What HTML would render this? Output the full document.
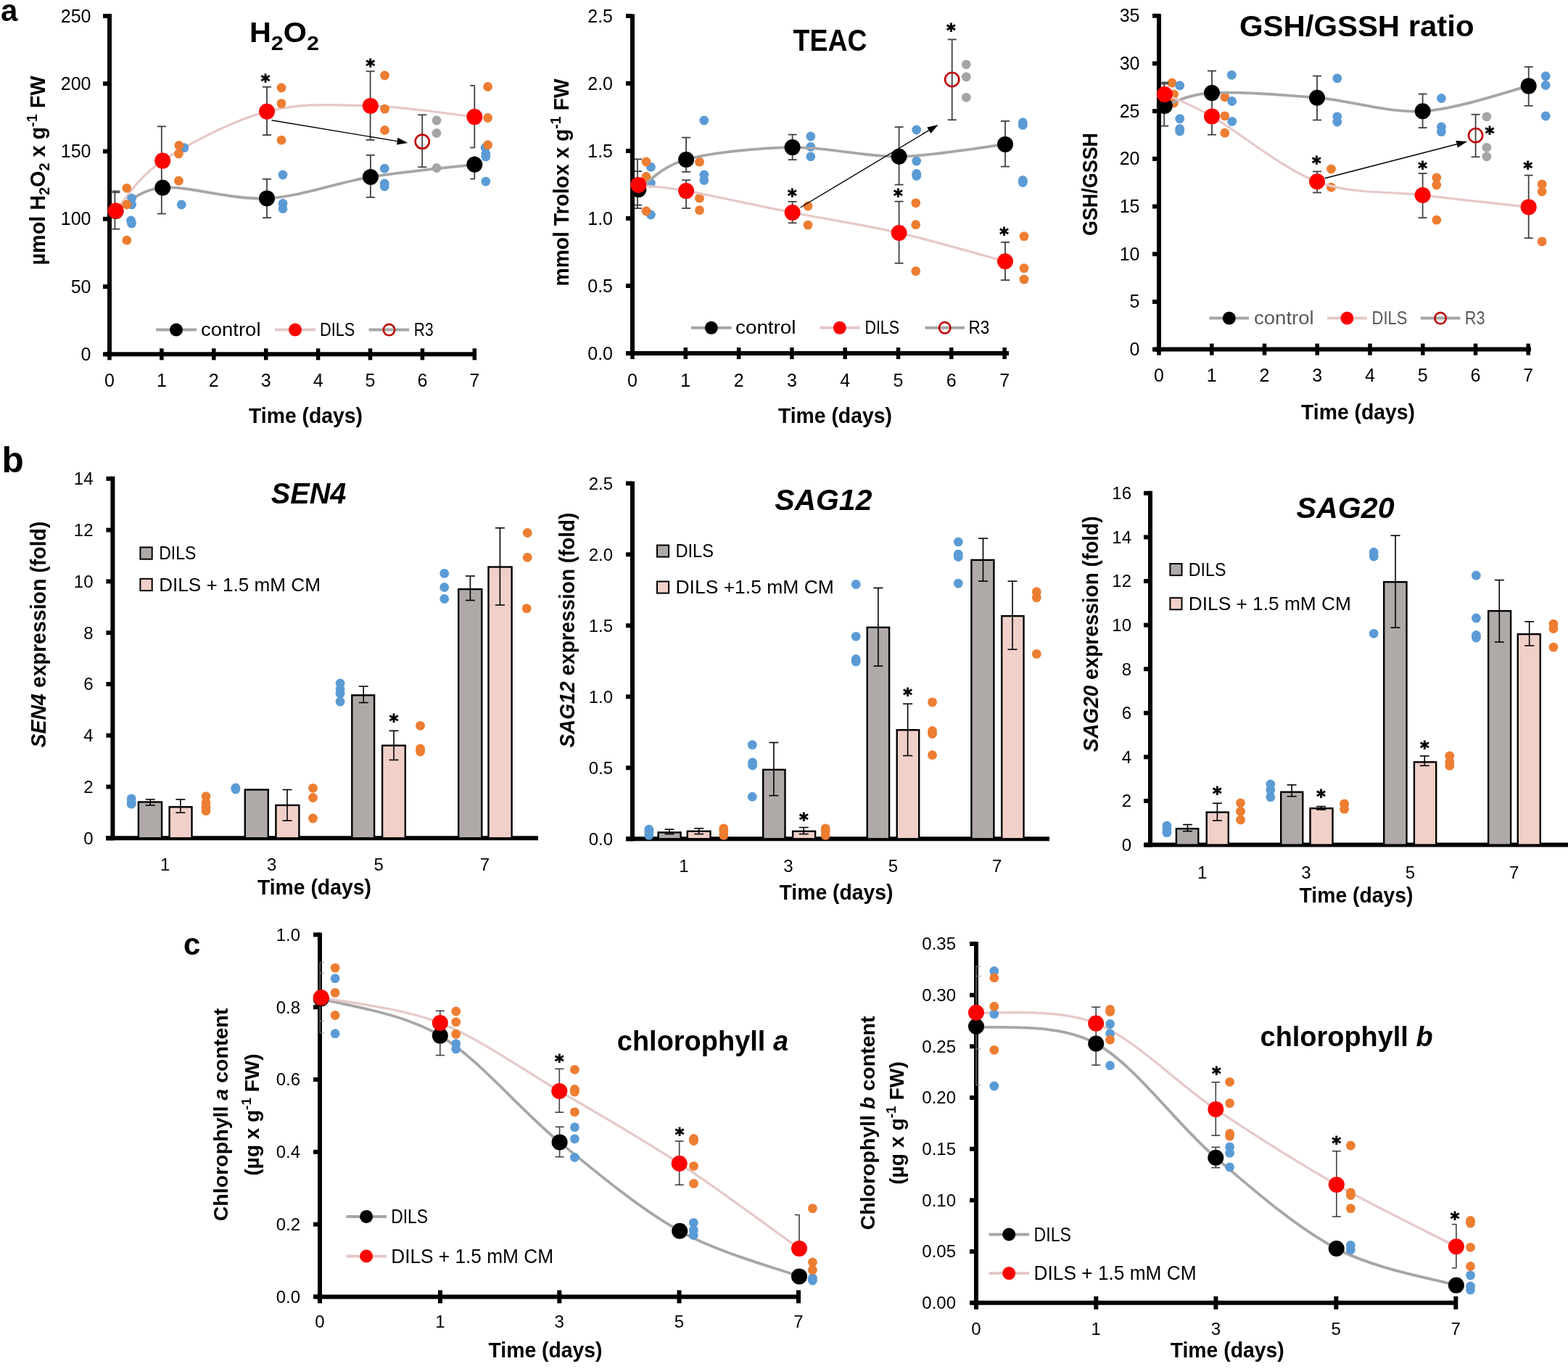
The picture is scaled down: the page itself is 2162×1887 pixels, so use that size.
<!DOCTYPE html><html><head><meta charset="utf-8"><title>Figure</title><style>html,body{margin:0;padding:0;background:#fff;}svg{display:block;}text{font-family:"Liberation Sans", sans-serif;}</style></head><body>
<svg width="2162" height="1887" viewBox="0 0 2162 1887">
<rect width="2162" height="1887" fill="#fff"/>
<text x="1" y="29" font-size="42" text-anchor="start" font-weight="bold" >a</text>
<text x="2.5" y="651.3" font-size="49.5" text-anchor="start" font-weight="bold" >b</text>
<text x="253" y="1316" font-size="42" text-anchor="start" font-weight="bold" >c</text>
<line x1="151" y1="19" x2="151" y2="491.3" stroke="#000" stroke-width="6" stroke-linecap="butt"/>
<line x1="142" y1="488.3" x2="151" y2="488.3" stroke="#000" stroke-width="6" stroke-linecap="butt"/>
<text x="125.5" y="496.8" font-size="25" text-anchor="end" >0</text>
<line x1="142" y1="395.1" x2="151" y2="395.1" stroke="#000" stroke-width="6" stroke-linecap="butt"/>
<text x="125.5" y="403.6" font-size="25" text-anchor="end" >50</text>
<line x1="142" y1="301.8" x2="151" y2="301.8" stroke="#000" stroke-width="6" stroke-linecap="butt"/>
<text x="125.5" y="310.3" font-size="25" text-anchor="end" >100</text>
<line x1="142" y1="208.6" x2="151" y2="208.6" stroke="#000" stroke-width="6" stroke-linecap="butt"/>
<text x="125.5" y="217.1" font-size="25" text-anchor="end" >150</text>
<line x1="142" y1="115.3" x2="151" y2="115.3" stroke="#000" stroke-width="6" stroke-linecap="butt"/>
<text x="125.5" y="123.8" font-size="25" text-anchor="end" >200</text>
<line x1="142" y1="22.1" x2="151" y2="22.1" stroke="#000" stroke-width="6" stroke-linecap="butt"/>
<text x="125.5" y="30.6" font-size="25" text-anchor="end" >250</text>
<line x1="145" y1="488.3" x2="657" y2="488.3" stroke="#000" stroke-width="6" stroke-linecap="butt"/>
<line x1="151" y1="480.3" x2="151" y2="496.3" stroke="#000" stroke-width="5.5" stroke-linecap="butt"/>
<line x1="222.9" y1="480.3" x2="222.9" y2="496.3" stroke="#000" stroke-width="5.5" stroke-linecap="butt"/>
<line x1="294.8" y1="480.3" x2="294.8" y2="496.3" stroke="#000" stroke-width="5.5" stroke-linecap="butt"/>
<line x1="366.7" y1="480.3" x2="366.7" y2="496.3" stroke="#000" stroke-width="5.5" stroke-linecap="butt"/>
<line x1="438.6" y1="480.3" x2="438.6" y2="496.3" stroke="#000" stroke-width="5.5" stroke-linecap="butt"/>
<line x1="510.5" y1="480.3" x2="510.5" y2="496.3" stroke="#000" stroke-width="5.5" stroke-linecap="butt"/>
<line x1="582.4" y1="480.3" x2="582.4" y2="496.3" stroke="#000" stroke-width="5.5" stroke-linecap="butt"/>
<line x1="654.3" y1="480.3" x2="654.3" y2="496.3" stroke="#000" stroke-width="5.5" stroke-linecap="butt"/>
<text x="151" y="533" font-size="25" text-anchor="middle" >0</text>
<text x="222.9" y="533" font-size="25" text-anchor="middle" >1</text>
<text x="294.8" y="533" font-size="25" text-anchor="middle" >2</text>
<text x="366.7" y="533" font-size="25" text-anchor="middle" >3</text>
<text x="438.6" y="533" font-size="25" text-anchor="middle" >4</text>
<text x="510.5" y="533" font-size="25" text-anchor="middle" >5</text>
<text x="582.4" y="533" font-size="25" text-anchor="middle" >6</text>
<text x="654.3" y="533" font-size="25" text-anchor="middle" >7</text>
<text x="421.5" y="583" font-size="29" text-anchor="middle" font-weight="bold" textLength="157" lengthAdjust="spacingAndGlyphs" >Time (days)</text>
<text x="344" y="58" font-size="38" font-weight="bold" textLength="96" lengthAdjust="spacingAndGlyphs">H<tspan font-size="28" dy="11">2</tspan><tspan dy="-11">O</tspan><tspan font-size="28" dy="11">2</tspan></text>
<text transform="translate(62,235) rotate(-90)" x="0" y="0" font-size="29" font-weight="bold" text-anchor="middle" textLength="261" lengthAdjust="spacingAndGlyphs">µmol H<tspan font-size="20" dy="6">2</tspan><tspan dy="-6">O</tspan><tspan font-size="20" dy="6">2</tspan><tspan dy="-6"> x g</tspan><tspan font-size="20" dy="-11">-1</tspan><tspan dy="11"> FW</tspan></text>
<path d="M159.5,291 C170.3,285.6 189.4,261.6 224.2,258.7 C258.9,255.8 320.2,275.8 368,273.4 C415.8,270.9 463.2,251.8 510.9,244 C558.6,236.2 630.4,229.7 654.3,226.8" fill="none" stroke="#a6a6a6" stroke-width="3.8" stroke-linejoin="round"/>
<path d="M159.5,290.6 C170.3,279.1 189.4,244.4 224.2,221.6 C258.9,198.8 320.2,166.4 368,153.8 C415.8,141.2 463.1,144.7 510.8,145.9 C558.5,147.1 630.4,158.6 654.3,161.1" fill="none" stroke="#e6c8c8" stroke-width="3.2" stroke-linejoin="round"/>
<circle cx="181.6" cy="273.4" r="6.4" fill="#5b9bd5"/>
<circle cx="181.6" cy="282" r="6.4" fill="#5b9bd5"/>
<circle cx="180.5" cy="304" r="6.4" fill="#5b9bd5"/>
<circle cx="181.5" cy="308" r="6.4" fill="#5b9bd5"/>
<circle cx="253.9" cy="203.6" r="6.4" fill="#5b9bd5"/>
<circle cx="250.2" cy="282" r="6.4" fill="#5b9bd5"/>
<circle cx="390" cy="241" r="6.4" fill="#5b9bd5"/>
<circle cx="390" cy="280.5" r="6.4" fill="#5b9bd5"/>
<circle cx="390" cy="287.7" r="6.4" fill="#5b9bd5"/>
<circle cx="530.2" cy="232.2" r="6.4" fill="#5b9bd5"/>
<circle cx="530.2" cy="253" r="6.4" fill="#5b9bd5"/>
<circle cx="530.2" cy="257" r="6.4" fill="#5b9bd5"/>
<circle cx="669.1" cy="203.5" r="6.4" fill="#5b9bd5"/>
<circle cx="669.8" cy="212" r="6.4" fill="#5b9bd5"/>
<circle cx="669.8" cy="216" r="6.4" fill="#5b9bd5"/>
<circle cx="669.8" cy="250.1" r="6.4" fill="#5b9bd5"/>
<circle cx="174.8" cy="259.3" r="6.4" fill="#ed7d31"/>
<circle cx="174.8" cy="282" r="6.4" fill="#ed7d31"/>
<circle cx="174.8" cy="331.2" r="6.4" fill="#ed7d31"/>
<circle cx="246.8" cy="200.5" r="6.4" fill="#ed7d31"/>
<circle cx="246.4" cy="212" r="6.4" fill="#ed7d31"/>
<circle cx="246.4" cy="249.2" r="6.4" fill="#ed7d31"/>
<circle cx="388" cy="121" r="6.4" fill="#ed7d31"/>
<circle cx="388" cy="142.6" r="6.4" fill="#ed7d31"/>
<circle cx="388" cy="193.2" r="6.4" fill="#ed7d31"/>
<circle cx="530.5" cy="104" r="6.4" fill="#ed7d31"/>
<circle cx="530.5" cy="150.1" r="6.4" fill="#ed7d31"/>
<circle cx="530.5" cy="179.5" r="6.4" fill="#ed7d31"/>
<circle cx="672.6" cy="119.5" r="6.4" fill="#ed7d31"/>
<circle cx="672.6" cy="162.5" r="6.4" fill="#ed7d31"/>
<circle cx="672.6" cy="199.7" r="6.4" fill="#ed7d31"/>
<circle cx="602" cy="166" r="6.4" fill="#a5a5a5"/>
<circle cx="602" cy="183.5" r="6.4" fill="#a5a5a5"/>
<circle cx="602" cy="231.5" r="6.4" fill="#a5a5a5"/>
<line x1="158.4" y1="263.5" x2="158.4" y2="315.7" stroke="#404040" stroke-width="1.8" stroke-linecap="butt"/>
<line x1="154.4" y1="263.5" x2="165.4" y2="263.5" stroke="#404040" stroke-width="1.8" stroke-linecap="butt"/>
<line x1="154.4" y1="315.7" x2="165.4" y2="315.7" stroke="#404040" stroke-width="1.8" stroke-linecap="butt"/>
<line x1="154.4" y1="265.3" x2="165.4" y2="265.3" stroke="#404040" stroke-width="1.8" stroke-linecap="butt"/>
<line x1="222.8" y1="174.3" x2="222.8" y2="294.6" stroke="#404040" stroke-width="1.8" stroke-linecap="butt"/>
<line x1="216.8" y1="174.3" x2="228.8" y2="174.3" stroke="#404040" stroke-width="1.8" stroke-linecap="butt"/>
<line x1="216.8" y1="294.6" x2="228.8" y2="294.6" stroke="#404040" stroke-width="1.8" stroke-linecap="butt"/>
<line x1="368" y1="119.8" x2="368" y2="186.1" stroke="#404040" stroke-width="1.8" stroke-linecap="butt"/>
<line x1="362" y1="119.8" x2="374" y2="119.8" stroke="#404040" stroke-width="1.8" stroke-linecap="butt"/>
<line x1="362" y1="186.1" x2="374" y2="186.1" stroke="#404040" stroke-width="1.8" stroke-linecap="butt"/>
<line x1="368" y1="246.8" x2="368" y2="300.2" stroke="#404040" stroke-width="1.8" stroke-linecap="butt"/>
<line x1="362" y1="246.8" x2="374" y2="246.8" stroke="#404040" stroke-width="1.8" stroke-linecap="butt"/>
<line x1="362" y1="300.2" x2="374" y2="300.2" stroke="#404040" stroke-width="1.8" stroke-linecap="butt"/>
<line x1="510.6" y1="98.3" x2="510.6" y2="192.9" stroke="#404040" stroke-width="1.8" stroke-linecap="butt"/>
<line x1="504.6" y1="98.3" x2="516.6" y2="98.3" stroke="#404040" stroke-width="1.8" stroke-linecap="butt"/>
<line x1="504.6" y1="192.9" x2="516.6" y2="192.9" stroke="#404040" stroke-width="1.8" stroke-linecap="butt"/>
<line x1="510.9" y1="213.8" x2="510.9" y2="272" stroke="#404040" stroke-width="1.8" stroke-linecap="butt"/>
<line x1="504.9" y1="213.8" x2="516.9" y2="213.8" stroke="#404040" stroke-width="1.8" stroke-linecap="butt"/>
<line x1="504.9" y1="272" x2="516.9" y2="272" stroke="#404040" stroke-width="1.8" stroke-linecap="butt"/>
<line x1="582.2" y1="158.3" x2="582.2" y2="230.3" stroke="#404040" stroke-width="1.8" stroke-linecap="butt"/>
<line x1="576.2" y1="158.3" x2="588.2" y2="158.3" stroke="#404040" stroke-width="1.8" stroke-linecap="butt"/>
<line x1="576.2" y1="230.3" x2="588.2" y2="230.3" stroke="#404040" stroke-width="1.8" stroke-linecap="butt"/>
<line x1="654.3" y1="118" x2="654.3" y2="203.5" stroke="#404040" stroke-width="1.8" stroke-linecap="butt"/>
<line x1="648.3" y1="118" x2="654.8" y2="118" stroke="#404040" stroke-width="1.8" stroke-linecap="butt"/>
<line x1="648.3" y1="203.5" x2="654.8" y2="203.5" stroke="#404040" stroke-width="1.8" stroke-linecap="butt"/>
<line x1="654.3" y1="215" x2="654.3" y2="246.6" stroke="#404040" stroke-width="1.8" stroke-linecap="butt"/>
<line x1="648.3" y1="246.6" x2="654.8" y2="246.6" stroke="#404040" stroke-width="1.8" stroke-linecap="butt"/>
<circle cx="159.5" cy="291" r="11" fill="#000"/>
<circle cx="224.2" cy="258.7" r="11" fill="#000"/>
<circle cx="368" cy="273.4" r="11" fill="#000"/>
<circle cx="510.9" cy="244" r="11" fill="#000"/>
<circle cx="654.3" cy="226.8" r="11" fill="#000"/>
<circle cx="159.5" cy="290.6" r="11" fill="#ff0000"/>
<circle cx="224.2" cy="221.6" r="11" fill="#ff0000"/>
<circle cx="368" cy="153.8" r="11" fill="#ff0000"/>
<circle cx="510.8" cy="145.9" r="11" fill="#ff0000"/>
<circle cx="654.3" cy="161.1" r="11" fill="#ff0000"/>
<circle cx="582.2" cy="195.2" r="9.6" fill="none" stroke="#c00000" stroke-width="2.6"/>
<line x1="374.5" y1="165.8" x2="547.6" y2="194.6" stroke="#000" stroke-width="1.4" stroke-linecap="butt"/>
<polygon points="562.4,197.1 546.8,199.6 548.4,189.7" fill="#000"/>
<text x="366" y="119.5" font-size="24" font-weight="bold" text-anchor="middle" stroke="#000" stroke-width="0.9" style="font-family:'DejaVu Sans',sans-serif">*</text>
<text x="510.9" y="99" font-size="24" font-weight="bold" text-anchor="middle" stroke="#000" stroke-width="0.9" style="font-family:'DejaVu Sans',sans-serif">*</text>
<line x1="215" y1="454.6" x2="271" y2="454.6" stroke="#a6a6a6" stroke-width="4" stroke-linecap="butt"/>
<circle cx="243" cy="454.6" r="9" fill="#000"/>
<text x="277" y="463.2" font-size="26" text-anchor="start" textLength="82.5" lengthAdjust="spacingAndGlyphs" >control</text>
<line x1="379" y1="454.6" x2="435" y2="454.6" stroke="#e6c8c8" stroke-width="4" stroke-linecap="butt"/>
<circle cx="407" cy="454.6" r="9" fill="#ff0000"/>
<text x="441" y="463.2" font-size="26" text-anchor="start" textLength="48.3" lengthAdjust="spacingAndGlyphs" >DILS</text>
<line x1="508.6" y1="454.6" x2="564.3" y2="454.6" stroke="#a6a6a6" stroke-width="4" stroke-linecap="butt"/>
<circle cx="536.5" cy="454.6" r="7.7" fill="none" stroke="#c00000" stroke-width="2.6"/>
<text x="570.8" y="463.2" font-size="26" text-anchor="start" textLength="26.8" lengthAdjust="spacingAndGlyphs" >R3</text>
<line x1="872" y1="19.5" x2="872" y2="490" stroke="#000" stroke-width="6" stroke-linecap="butt"/>
<line x1="863" y1="487" x2="872" y2="487" stroke="#000" stroke-width="6" stroke-linecap="butt"/>
<text x="845" y="495.5" font-size="25" text-anchor="end" >0.0</text>
<line x1="863" y1="394" x2="872" y2="394" stroke="#000" stroke-width="6" stroke-linecap="butt"/>
<text x="845" y="402.5" font-size="25" text-anchor="end" >0.5</text>
<line x1="863" y1="301" x2="872" y2="301" stroke="#000" stroke-width="6" stroke-linecap="butt"/>
<text x="845" y="309.5" font-size="25" text-anchor="end" >1.0</text>
<line x1="863" y1="208" x2="872" y2="208" stroke="#000" stroke-width="6" stroke-linecap="butt"/>
<text x="845" y="216.5" font-size="25" text-anchor="end" >1.5</text>
<line x1="863" y1="115" x2="872" y2="115" stroke="#000" stroke-width="6" stroke-linecap="butt"/>
<text x="845" y="123.5" font-size="25" text-anchor="end" >2.0</text>
<line x1="863" y1="22" x2="872" y2="22" stroke="#000" stroke-width="6" stroke-linecap="butt"/>
<text x="845" y="30.5" font-size="25" text-anchor="end" >2.5</text>
<line x1="866" y1="487" x2="1391" y2="487" stroke="#000" stroke-width="6" stroke-linecap="butt"/>
<line x1="872" y1="479" x2="872" y2="495" stroke="#000" stroke-width="5.5" stroke-linecap="butt"/>
<line x1="945.3" y1="479" x2="945.3" y2="495" stroke="#000" stroke-width="5.5" stroke-linecap="butt"/>
<line x1="1018.6" y1="479" x2="1018.6" y2="495" stroke="#000" stroke-width="5.5" stroke-linecap="butt"/>
<line x1="1091.9" y1="479" x2="1091.9" y2="495" stroke="#000" stroke-width="5.5" stroke-linecap="butt"/>
<line x1="1165.2" y1="479" x2="1165.2" y2="495" stroke="#000" stroke-width="5.5" stroke-linecap="butt"/>
<line x1="1238.5" y1="479" x2="1238.5" y2="495" stroke="#000" stroke-width="5.5" stroke-linecap="butt"/>
<line x1="1311.8" y1="479" x2="1311.8" y2="495" stroke="#000" stroke-width="5.5" stroke-linecap="butt"/>
<line x1="1385.1" y1="479" x2="1385.1" y2="495" stroke="#000" stroke-width="5.5" stroke-linecap="butt"/>
<text x="872" y="533" font-size="25" text-anchor="middle" >0</text>
<text x="945.3" y="533" font-size="25" text-anchor="middle" >1</text>
<text x="1018.6" y="533" font-size="25" text-anchor="middle" >2</text>
<text x="1091.9" y="533" font-size="25" text-anchor="middle" >3</text>
<text x="1165.2" y="533" font-size="25" text-anchor="middle" >4</text>
<text x="1238.5" y="533" font-size="25" text-anchor="middle" >5</text>
<text x="1311.8" y="533" font-size="25" text-anchor="middle" >6</text>
<text x="1385.1" y="533" font-size="25" text-anchor="middle" >7</text>
<text x="1151.4" y="583" font-size="29" text-anchor="middle" font-weight="bold" textLength="157" lengthAdjust="spacingAndGlyphs" >Time (days)</text>
<text x="1093.5" y="70.3" font-size="42" text-anchor="start" font-weight="bold" textLength="102" lengthAdjust="spacingAndGlyphs" >TEAC</text>
<text transform="translate(784,251.5) rotate(-90)" x="0" y="0" font-size="29" font-weight="bold" text-anchor="middle" textLength="286" lengthAdjust="spacingAndGlyphs">mmol Trolox x g<tspan font-size="20" dy="-11">-1</tspan><tspan dy="11"> FW</tspan></text>
<circle cx="897.4" cy="230.2" r="6.4" fill="#5b9bd5"/>
<circle cx="897.4" cy="252.3" r="6.4" fill="#5b9bd5"/>
<circle cx="897.4" cy="296" r="6.4" fill="#5b9bd5"/>
<circle cx="970.8" cy="166" r="6.4" fill="#5b9bd5"/>
<circle cx="970.8" cy="241" r="6.4" fill="#5b9bd5"/>
<circle cx="970.8" cy="248.5" r="6.4" fill="#5b9bd5"/>
<circle cx="1117.8" cy="188" r="6.4" fill="#5b9bd5"/>
<circle cx="1117.8" cy="202.4" r="6.4" fill="#5b9bd5"/>
<circle cx="1117.8" cy="215.8" r="6.4" fill="#5b9bd5"/>
<circle cx="1263.7" cy="179" r="6.4" fill="#5b9bd5"/>
<circle cx="1263.7" cy="222" r="6.4" fill="#5b9bd5"/>
<circle cx="1263.7" cy="239.5" r="6.4" fill="#5b9bd5"/>
<circle cx="1263.7" cy="242.5" r="6.4" fill="#5b9bd5"/>
<circle cx="1410.3" cy="168.7" r="6.4" fill="#5b9bd5"/>
<circle cx="1410.3" cy="172.4" r="6.4" fill="#5b9bd5"/>
<circle cx="1410.3" cy="248.5" r="6.4" fill="#5b9bd5"/>
<circle cx="1410.3" cy="251.5" r="6.4" fill="#5b9bd5"/>
<circle cx="891" cy="223" r="6.4" fill="#ed7d31"/>
<circle cx="891" cy="243.5" r="6.4" fill="#ed7d31"/>
<circle cx="891" cy="291" r="6.4" fill="#ed7d31"/>
<circle cx="964.5" cy="223.2" r="6.4" fill="#ed7d31"/>
<circle cx="964.5" cy="273.2" r="6.4" fill="#ed7d31"/>
<circle cx="964.5" cy="289.7" r="6.4" fill="#ed7d31"/>
<circle cx="1114" cy="284" r="6.4" fill="#ed7d31"/>
<circle cx="1114" cy="310.1" r="6.4" fill="#ed7d31"/>
<circle cx="1262.7" cy="279.8" r="6.4" fill="#ed7d31"/>
<circle cx="1262.7" cy="309.7" r="6.4" fill="#ed7d31"/>
<circle cx="1262.7" cy="373.7" r="6.4" fill="#ed7d31"/>
<circle cx="1412" cy="325.6" r="6.4" fill="#ed7d31"/>
<circle cx="1412" cy="369.6" r="6.4" fill="#ed7d31"/>
<circle cx="1412" cy="385.1" r="6.4" fill="#ed7d31"/>
<circle cx="1332.3" cy="88.8" r="6.4" fill="#a5a5a5"/>
<circle cx="1332.3" cy="106" r="6.4" fill="#a5a5a5"/>
<circle cx="1332.3" cy="134.3" r="6.4" fill="#a5a5a5"/>
<path d="M880.3,261.2 C891.3,254.3 910.7,229.7 946.1,220 C981.5,210.3 1043.7,203.8 1092.6,203.1 C1141.5,202.4 1190.7,216.5 1239.6,215.8 C1288.5,215.1 1361.6,201.7 1386,198.9" fill="none" stroke="#a6a6a6" stroke-width="3.8" stroke-linejoin="round"/>
<path d="M880.3,254.9 C891.3,256.3 910.7,256.8 946.1,263.1 C981.5,269.5 1043.7,283.4 1092.6,293 C1141.5,302.6 1190.7,309.8 1239.6,321 C1288.5,332.2 1361.6,353.8 1386,360.3" fill="none" stroke="#e6c8c8" stroke-width="3.2" stroke-linejoin="round"/>
<line x1="879" y1="219.4" x2="879" y2="287.1" stroke="#404040" stroke-width="1.8" stroke-linecap="butt"/>
<line x1="875" y1="219.4" x2="885" y2="219.4" stroke="#404040" stroke-width="1.8" stroke-linecap="butt"/>
<line x1="875" y1="287.1" x2="885" y2="287.1" stroke="#404040" stroke-width="1.8" stroke-linecap="butt"/>
<line x1="875" y1="236.1" x2="885" y2="236.1" stroke="#404040" stroke-width="1.8" stroke-linecap="butt"/>
<line x1="875" y1="282.7" x2="885" y2="282.7" stroke="#404040" stroke-width="1.8" stroke-linecap="butt"/>
<line x1="946.1" y1="189.6" x2="946.1" y2="236.9" stroke="#404040" stroke-width="1.8" stroke-linecap="butt"/>
<line x1="940.1" y1="189.6" x2="952.1" y2="189.6" stroke="#404040" stroke-width="1.8" stroke-linecap="butt"/>
<line x1="940.1" y1="236.9" x2="952.1" y2="236.9" stroke="#404040" stroke-width="1.8" stroke-linecap="butt"/>
<line x1="946.1" y1="248.3" x2="946.1" y2="287.1" stroke="#404040" stroke-width="1.8" stroke-linecap="butt"/>
<line x1="940.1" y1="248.3" x2="952.1" y2="248.3" stroke="#404040" stroke-width="1.8" stroke-linecap="butt"/>
<line x1="940.1" y1="287.1" x2="952.1" y2="287.1" stroke="#404040" stroke-width="1.8" stroke-linecap="butt"/>
<line x1="1092.6" y1="185.5" x2="1092.6" y2="220.2" stroke="#404040" stroke-width="1.8" stroke-linecap="butt"/>
<line x1="1086.6" y1="185.5" x2="1098.6" y2="185.5" stroke="#404040" stroke-width="1.8" stroke-linecap="butt"/>
<line x1="1086.6" y1="220.2" x2="1098.6" y2="220.2" stroke="#404040" stroke-width="1.8" stroke-linecap="butt"/>
<line x1="1092.6" y1="277.9" x2="1092.6" y2="307.3" stroke="#404040" stroke-width="1.8" stroke-linecap="butt"/>
<line x1="1086.6" y1="277.9" x2="1098.6" y2="277.9" stroke="#404040" stroke-width="1.8" stroke-linecap="butt"/>
<line x1="1086.6" y1="307.3" x2="1098.6" y2="307.3" stroke="#404040" stroke-width="1.8" stroke-linecap="butt"/>
<line x1="1239.6" y1="175.1" x2="1239.6" y2="254.6" stroke="#404040" stroke-width="1.8" stroke-linecap="butt"/>
<line x1="1233.6" y1="175.1" x2="1245.6" y2="175.1" stroke="#404040" stroke-width="1.8" stroke-linecap="butt"/>
<line x1="1233.6" y1="254.6" x2="1245.6" y2="254.6" stroke="#404040" stroke-width="1.8" stroke-linecap="butt"/>
<line x1="1239.6" y1="277.7" x2="1239.6" y2="362.8" stroke="#404040" stroke-width="1.8" stroke-linecap="butt"/>
<line x1="1233.6" y1="277.7" x2="1245.6" y2="277.7" stroke="#404040" stroke-width="1.8" stroke-linecap="butt"/>
<line x1="1233.6" y1="362.8" x2="1245.6" y2="362.8" stroke="#404040" stroke-width="1.8" stroke-linecap="butt"/>
<line x1="1312.7" y1="54.4" x2="1312.7" y2="165.2" stroke="#404040" stroke-width="1.8" stroke-linecap="butt"/>
<line x1="1306.7" y1="54.4" x2="1318.7" y2="54.4" stroke="#404040" stroke-width="1.8" stroke-linecap="butt"/>
<line x1="1306.7" y1="165.2" x2="1318.7" y2="165.2" stroke="#404040" stroke-width="1.8" stroke-linecap="butt"/>
<line x1="1386" y1="166.9" x2="1386" y2="229.6" stroke="#404040" stroke-width="1.8" stroke-linecap="butt"/>
<line x1="1380" y1="166.9" x2="1392" y2="166.9" stroke="#404040" stroke-width="1.8" stroke-linecap="butt"/>
<line x1="1380" y1="229.6" x2="1392" y2="229.6" stroke="#404040" stroke-width="1.8" stroke-linecap="butt"/>
<line x1="1386" y1="333.9" x2="1386" y2="386.1" stroke="#404040" stroke-width="1.8" stroke-linecap="butt"/>
<line x1="1380" y1="333.9" x2="1392" y2="333.9" stroke="#404040" stroke-width="1.8" stroke-linecap="butt"/>
<line x1="1380" y1="386.1" x2="1392" y2="386.1" stroke="#404040" stroke-width="1.8" stroke-linecap="butt"/>
<circle cx="880.3" cy="261.2" r="11" fill="#000"/>
<circle cx="946.1" cy="220" r="11" fill="#000"/>
<circle cx="1092.6" cy="203.1" r="11" fill="#000"/>
<circle cx="1239.6" cy="215.8" r="11" fill="#000"/>
<circle cx="1386" cy="198.9" r="11" fill="#000"/>
<circle cx="880.3" cy="254.9" r="11" fill="#ff0000"/>
<circle cx="946.1" cy="263.1" r="11" fill="#ff0000"/>
<circle cx="1092.6" cy="293" r="11" fill="#ff0000"/>
<circle cx="1239.6" cy="321" r="11" fill="#ff0000"/>
<circle cx="1386" cy="360.3" r="11" fill="#ff0000"/>
<circle cx="1312.7" cy="109.6" r="9.6" fill="none" stroke="#c00000" stroke-width="2.6"/>
<line x1="1103.7" y1="286" x2="1280.8" y2="179.7" stroke="#000" stroke-width="1.4" stroke-linecap="butt"/>
<polygon points="1293.7,172 1283.4,184 1278.3,175.4" fill="#000"/>
<text x="1092.4" y="277.8" font-size="24" font-weight="bold" text-anchor="middle" stroke="#000" stroke-width="0.9" style="font-family:'DejaVu Sans',sans-serif">*</text>
<text x="1238.3" y="277.8" font-size="24" font-weight="bold" text-anchor="middle" stroke="#000" stroke-width="0.9" style="font-family:'DejaVu Sans',sans-serif">*</text>
<text x="1384.5" y="330.5" font-size="24" font-weight="bold" text-anchor="middle" stroke="#000" stroke-width="0.9" style="font-family:'DejaVu Sans',sans-serif">*</text>
<text x="1311.4" y="50" font-size="24" font-weight="bold" text-anchor="middle" stroke="#000" stroke-width="0.9" style="font-family:'DejaVu Sans',sans-serif">*</text>
<line x1="952.9" y1="451.8" x2="1008.6" y2="451.8" stroke="#a6a6a6" stroke-width="4" stroke-linecap="butt"/>
<circle cx="980.8" cy="451.8" r="9" fill="#000"/>
<text x="1014" y="459.5" font-size="26" text-anchor="start" textLength="83.5" lengthAdjust="spacingAndGlyphs" >control</text>
<line x1="1130.3" y1="451.8" x2="1185.4" y2="451.8" stroke="#e6c8c8" stroke-width="4" stroke-linecap="butt"/>
<circle cx="1157.8" cy="451.8" r="9" fill="#ff0000"/>
<text x="1192.5" y="459.5" font-size="26" text-anchor="start" textLength="47.5" lengthAdjust="spacingAndGlyphs" >DILS</text>
<line x1="1275.4" y1="451.8" x2="1330" y2="451.8" stroke="#a6a6a6" stroke-width="4" stroke-linecap="butt"/>
<circle cx="1302.7" cy="451.8" r="7.7" fill="none" stroke="#c00000" stroke-width="2.6"/>
<text x="1335.4" y="459.5" font-size="26" text-anchor="start" textLength="28.9" lengthAdjust="spacingAndGlyphs" >R3</text>
<line x1="1598" y1="19" x2="1598" y2="484.6" stroke="#000" stroke-width="6" stroke-linecap="butt"/>
<line x1="1589" y1="481.6" x2="1598" y2="481.6" stroke="#000" stroke-width="6" stroke-linecap="butt"/>
<text x="1571.5" y="490.1" font-size="25" text-anchor="end" >0</text>
<line x1="1589" y1="415.9" x2="1598" y2="415.9" stroke="#000" stroke-width="6" stroke-linecap="butt"/>
<text x="1571.5" y="424.4" font-size="25" text-anchor="end" >5</text>
<line x1="1589" y1="350.2" x2="1598" y2="350.2" stroke="#000" stroke-width="6" stroke-linecap="butt"/>
<text x="1571.5" y="358.7" font-size="25" text-anchor="end" >10</text>
<line x1="1589" y1="284.6" x2="1598" y2="284.6" stroke="#000" stroke-width="6" stroke-linecap="butt"/>
<text x="1571.5" y="293.1" font-size="25" text-anchor="end" >15</text>
<line x1="1589" y1="218.9" x2="1598" y2="218.9" stroke="#000" stroke-width="6" stroke-linecap="butt"/>
<text x="1571.5" y="227.4" font-size="25" text-anchor="end" >20</text>
<line x1="1589" y1="153.2" x2="1598" y2="153.2" stroke="#000" stroke-width="6" stroke-linecap="butt"/>
<text x="1571.5" y="161.7" font-size="25" text-anchor="end" >25</text>
<line x1="1589" y1="87.5" x2="1598" y2="87.5" stroke="#000" stroke-width="6" stroke-linecap="butt"/>
<text x="1571.5" y="96" font-size="25" text-anchor="end" >30</text>
<line x1="1589" y1="21.8" x2="1598" y2="21.8" stroke="#000" stroke-width="6" stroke-linecap="butt"/>
<text x="1571.5" y="30.3" font-size="25" text-anchor="end" >35</text>
<line x1="1592" y1="481.6" x2="2111" y2="481.6" stroke="#000" stroke-width="6" stroke-linecap="butt"/>
<line x1="1598" y1="473.6" x2="1598" y2="489.6" stroke="#000" stroke-width="5.5" stroke-linecap="butt"/>
<line x1="1670.8" y1="473.6" x2="1670.8" y2="489.6" stroke="#000" stroke-width="5.5" stroke-linecap="butt"/>
<line x1="1743.5" y1="473.6" x2="1743.5" y2="489.6" stroke="#000" stroke-width="5.5" stroke-linecap="butt"/>
<line x1="1816.2" y1="473.6" x2="1816.2" y2="489.6" stroke="#000" stroke-width="5.5" stroke-linecap="butt"/>
<line x1="1889" y1="473.6" x2="1889" y2="489.6" stroke="#000" stroke-width="5.5" stroke-linecap="butt"/>
<line x1="1961.8" y1="473.6" x2="1961.8" y2="489.6" stroke="#000" stroke-width="5.5" stroke-linecap="butt"/>
<line x1="2034.5" y1="473.6" x2="2034.5" y2="489.6" stroke="#000" stroke-width="5.5" stroke-linecap="butt"/>
<line x1="2107.2" y1="473.6" x2="2107.2" y2="489.6" stroke="#000" stroke-width="5.5" stroke-linecap="butt"/>
<text x="1598" y="526" font-size="25" text-anchor="middle" >0</text>
<text x="1670.8" y="526" font-size="25" text-anchor="middle" >1</text>
<text x="1743.5" y="526" font-size="25" text-anchor="middle" >2</text>
<text x="1816.2" y="526" font-size="25" text-anchor="middle" >3</text>
<text x="1889" y="526" font-size="25" text-anchor="middle" >4</text>
<text x="1961.8" y="526" font-size="25" text-anchor="middle" >5</text>
<text x="2034.5" y="526" font-size="25" text-anchor="middle" >6</text>
<text x="2107.2" y="526" font-size="25" text-anchor="middle" >7</text>
<text x="1872.5" y="578" font-size="29" text-anchor="middle" font-weight="bold" textLength="157" lengthAdjust="spacingAndGlyphs" >Time (days)</text>
<text x="1709" y="50.3" font-size="40" text-anchor="start" font-weight="bold" textLength="323.5" lengthAdjust="spacingAndGlyphs" >GSH/GSSH ratio</text>
<text x="0" y="0" transform="translate(1513,254) rotate(-90)" font-size="29" text-anchor="middle" font-weight="bold" textLength="142" lengthAdjust="spacingAndGlyphs">GSH/GSSH</text>
<circle cx="1616" cy="114.2" r="6.4" fill="#ed7d31"/>
<circle cx="1618.5" cy="130" r="6.4" fill="#ed7d31"/>
<circle cx="1618.5" cy="142" r="6.4" fill="#ed7d31"/>
<circle cx="1688.8" cy="133.8" r="6.4" fill="#ed7d31"/>
<circle cx="1688.8" cy="159.8" r="6.4" fill="#ed7d31"/>
<circle cx="1688.8" cy="183.2" r="6.4" fill="#ed7d31"/>
<circle cx="1835.5" cy="233" r="6.4" fill="#ed7d31"/>
<circle cx="1835.5" cy="258.2" r="6.4" fill="#ed7d31"/>
<circle cx="1980.8" cy="245" r="6.4" fill="#ed7d31"/>
<circle cx="1980.8" cy="255" r="6.4" fill="#ed7d31"/>
<circle cx="1980.8" cy="303.2" r="6.4" fill="#ed7d31"/>
<circle cx="2126.2" cy="254" r="6.4" fill="#ed7d31"/>
<circle cx="2126.2" cy="264" r="6.4" fill="#ed7d31"/>
<circle cx="2126.2" cy="332.9" r="6.4" fill="#ed7d31"/>
<circle cx="1626.7" cy="118" r="6.4" fill="#5b9bd5"/>
<circle cx="1626.7" cy="163.6" r="6.4" fill="#5b9bd5"/>
<circle cx="1626.7" cy="177.5" r="6.4" fill="#5b9bd5"/>
<circle cx="1626.7" cy="181" r="6.4" fill="#5b9bd5"/>
<circle cx="1698.3" cy="103.4" r="6.4" fill="#5b9bd5"/>
<circle cx="1698.7" cy="139.5" r="6.4" fill="#5b9bd5"/>
<circle cx="1698.7" cy="167.4" r="6.4" fill="#5b9bd5"/>
<circle cx="1843.8" cy="108" r="6.4" fill="#5b9bd5"/>
<circle cx="1843.8" cy="160.8" r="6.4" fill="#5b9bd5"/>
<circle cx="1843.8" cy="168" r="6.4" fill="#5b9bd5"/>
<circle cx="1987.4" cy="135.5" r="6.4" fill="#5b9bd5"/>
<circle cx="1987.4" cy="175" r="6.4" fill="#5b9bd5"/>
<circle cx="1987.4" cy="181.6" r="6.4" fill="#5b9bd5"/>
<circle cx="2131.2" cy="105" r="6.4" fill="#5b9bd5"/>
<circle cx="2131.2" cy="117.5" r="6.4" fill="#5b9bd5"/>
<circle cx="2131.2" cy="160" r="6.4" fill="#5b9bd5"/>
<circle cx="2049.9" cy="160.8" r="6.4" fill="#a5a5a5"/>
<circle cx="2049.9" cy="203.3" r="6.4" fill="#a5a5a5"/>
<circle cx="2049.9" cy="215.8" r="6.4" fill="#a5a5a5"/>
<path d="M1605.8,145.9 C1616.7,142.9 1636,130 1671,128.1 C1706,126.2 1767.6,130.5 1816,134.7 C1864.4,138.9 1913,156 1961.6,153.3 C2010.2,150.6 2083.3,124.4 2107.7,118.6" fill="none" stroke="#a6a6a6" stroke-width="3.8" stroke-linejoin="round"/>
<path d="M1605.8,130 C1616.7,135.1 1636,140.3 1671,160.4 C1706,180.5 1767.6,232.2 1816,250.3 C1864.4,268.4 1913,263.1 1961.6,269 C2010.2,274.9 2083.3,282.7 2107.7,285.4" fill="none" stroke="#e6c8c8" stroke-width="3.2" stroke-linejoin="round"/>
<line x1="1605.2" y1="113.6" x2="1605.2" y2="173.7" stroke="#404040" stroke-width="1.8" stroke-linecap="butt"/>
<line x1="1601.2" y1="113.6" x2="1611.2" y2="113.6" stroke="#404040" stroke-width="1.8" stroke-linecap="butt"/>
<line x1="1601.2" y1="173.7" x2="1611.2" y2="173.7" stroke="#404040" stroke-width="1.8" stroke-linecap="butt"/>
<line x1="1601.2" y1="115.5" x2="1611.2" y2="115.5" stroke="#404040" stroke-width="1.8" stroke-linecap="butt"/>
<line x1="1671" y1="97.7" x2="1671" y2="185.7" stroke="#404040" stroke-width="1.8" stroke-linecap="butt"/>
<line x1="1665" y1="97.7" x2="1677" y2="97.7" stroke="#404040" stroke-width="1.8" stroke-linecap="butt"/>
<line x1="1665" y1="185.7" x2="1677" y2="185.7" stroke="#404040" stroke-width="1.8" stroke-linecap="butt"/>
<line x1="1816" y1="104.7" x2="1816" y2="165.5" stroke="#404040" stroke-width="1.8" stroke-linecap="butt"/>
<line x1="1810" y1="104.7" x2="1822" y2="104.7" stroke="#404040" stroke-width="1.8" stroke-linecap="butt"/>
<line x1="1810" y1="165.5" x2="1822" y2="165.5" stroke="#404040" stroke-width="1.8" stroke-linecap="butt"/>
<line x1="1816" y1="236.4" x2="1816" y2="265.5" stroke="#404040" stroke-width="1.8" stroke-linecap="butt"/>
<line x1="1810" y1="236.4" x2="1822" y2="236.4" stroke="#404040" stroke-width="1.8" stroke-linecap="butt"/>
<line x1="1810" y1="265.5" x2="1822" y2="265.5" stroke="#404040" stroke-width="1.8" stroke-linecap="butt"/>
<line x1="1961.6" y1="129.5" x2="1961.6" y2="176.1" stroke="#404040" stroke-width="1.8" stroke-linecap="butt"/>
<line x1="1955.6" y1="129.5" x2="1967.6" y2="129.5" stroke="#404040" stroke-width="1.8" stroke-linecap="butt"/>
<line x1="1955.6" y1="176.1" x2="1967.6" y2="176.1" stroke="#404040" stroke-width="1.8" stroke-linecap="butt"/>
<line x1="1961.6" y1="239" x2="1961.6" y2="300.2" stroke="#404040" stroke-width="1.8" stroke-linecap="butt"/>
<line x1="1955.6" y1="239" x2="1967.6" y2="239" stroke="#404040" stroke-width="1.8" stroke-linecap="butt"/>
<line x1="1955.6" y1="300.2" x2="1967.6" y2="300.2" stroke="#404040" stroke-width="1.8" stroke-linecap="butt"/>
<line x1="2034.6" y1="157.8" x2="2034.6" y2="216.3" stroke="#404040" stroke-width="1.8" stroke-linecap="butt"/>
<line x1="2028.6" y1="157.8" x2="2040.6" y2="157.8" stroke="#404040" stroke-width="1.8" stroke-linecap="butt"/>
<line x1="2028.6" y1="216.3" x2="2040.6" y2="216.3" stroke="#404040" stroke-width="1.8" stroke-linecap="butt"/>
<line x1="2107.7" y1="92.2" x2="2107.7" y2="145.8" stroke="#404040" stroke-width="1.8" stroke-linecap="butt"/>
<line x1="2101.7" y1="92.2" x2="2113.7" y2="92.2" stroke="#404040" stroke-width="1.8" stroke-linecap="butt"/>
<line x1="2101.7" y1="145.8" x2="2113.7" y2="145.8" stroke="#404040" stroke-width="1.8" stroke-linecap="butt"/>
<line x1="2107.7" y1="241.6" x2="2107.7" y2="328.2" stroke="#404040" stroke-width="1.8" stroke-linecap="butt"/>
<line x1="2101.7" y1="241.6" x2="2113.7" y2="241.6" stroke="#404040" stroke-width="1.8" stroke-linecap="butt"/>
<line x1="2101.7" y1="328.2" x2="2113.7" y2="328.2" stroke="#404040" stroke-width="1.8" stroke-linecap="butt"/>
<circle cx="1605.8" cy="145.9" r="11" fill="#000"/>
<circle cx="1671" cy="128.1" r="11" fill="#000"/>
<circle cx="1816" cy="134.7" r="11" fill="#000"/>
<circle cx="1961.6" cy="153.3" r="11" fill="#000"/>
<circle cx="2107.7" cy="118.6" r="11" fill="#000"/>
<circle cx="1605.8" cy="130" r="11" fill="#ff0000"/>
<circle cx="1671" cy="160.4" r="11" fill="#ff0000"/>
<circle cx="1816" cy="250.3" r="11" fill="#ff0000"/>
<circle cx="1961.6" cy="269" r="11" fill="#ff0000"/>
<circle cx="2107.7" cy="285.4" r="11" fill="#ff0000"/>
<circle cx="2034.6" cy="186.6" r="9.6" fill="none" stroke="#c00000" stroke-width="2.6"/>
<line x1="1826.7" y1="245.7" x2="2008.7" y2="198.7" stroke="#000" stroke-width="1.4" stroke-linecap="butt"/>
<polygon points="2023.2,195 2009.9,203.6 2007.4,193.9" fill="#000"/>
<text x="1815.4" y="232.5" font-size="24" font-weight="bold" text-anchor="middle" stroke="#000" stroke-width="0.9" style="font-family:'DejaVu Sans',sans-serif">*</text>
<text x="1961.6" y="239.9" font-size="24" font-weight="bold" text-anchor="middle" stroke="#000" stroke-width="0.9" style="font-family:'DejaVu Sans',sans-serif">*</text>
<text x="2106.9" y="239.9" font-size="24" font-weight="bold" text-anchor="middle" stroke="#000" stroke-width="0.9" style="font-family:'DejaVu Sans',sans-serif">*</text>
<text x="2054" y="191.6" font-size="24" font-weight="bold" text-anchor="middle" stroke="#000" stroke-width="0.9" style="font-family:'DejaVu Sans',sans-serif">*</text>
<line x1="1667.5" y1="438.6" x2="1722" y2="438.6" stroke="#a6a6a6" stroke-width="4" stroke-linecap="butt"/>
<circle cx="1694.8" cy="438.6" r="9" fill="#000"/>
<text x="1729" y="447" font-size="26" text-anchor="start" fill="#595959" textLength="82.7" lengthAdjust="spacingAndGlyphs" >control</text>
<line x1="1830" y1="438.6" x2="1884.8" y2="438.6" stroke="#e6c8c8" stroke-width="4" stroke-linecap="butt"/>
<circle cx="1857.4" cy="438.6" r="9" fill="#ff0000"/>
<text x="1891.6" y="447" font-size="26" text-anchor="start" fill="#595959" textLength="48.7" lengthAdjust="spacingAndGlyphs" >DILS</text>
<line x1="1958.8" y1="438.6" x2="2013.4" y2="438.6" stroke="#a6a6a6" stroke-width="4" stroke-linecap="butt"/>
<circle cx="1986.1" cy="438.6" r="7.7" fill="none" stroke="#c00000" stroke-width="2.6"/>
<text x="2019.8" y="447" font-size="26" text-anchor="start" fill="#595959" textLength="27.7" lengthAdjust="spacingAndGlyphs" >R3</text>
<line x1="155.4" y1="656.8" x2="155.4" y2="1158.3" stroke="#000" stroke-width="6" stroke-linecap="butt"/>
<line x1="146.4" y1="1155.3" x2="155.4" y2="1155.3" stroke="#000" stroke-width="6" stroke-linecap="butt"/>
<text x="128.5" y="1163.6" font-size="24" text-anchor="end" >0</text>
<line x1="146.4" y1="1084.5" x2="155.4" y2="1084.5" stroke="#000" stroke-width="6" stroke-linecap="butt"/>
<text x="128.5" y="1092.8" font-size="24" text-anchor="end" >2</text>
<line x1="146.4" y1="1013.7" x2="155.4" y2="1013.7" stroke="#000" stroke-width="6" stroke-linecap="butt"/>
<text x="128.5" y="1022" font-size="24" text-anchor="end" >4</text>
<line x1="146.4" y1="943" x2="155.4" y2="943" stroke="#000" stroke-width="6" stroke-linecap="butt"/>
<text x="128.5" y="951.3" font-size="24" text-anchor="end" >6</text>
<line x1="146.4" y1="872.2" x2="155.4" y2="872.2" stroke="#000" stroke-width="6" stroke-linecap="butt"/>
<text x="128.5" y="880.5" font-size="24" text-anchor="end" >8</text>
<line x1="146.4" y1="801.4" x2="155.4" y2="801.4" stroke="#000" stroke-width="6" stroke-linecap="butt"/>
<text x="128.5" y="809.7" font-size="24" text-anchor="end" >10</text>
<line x1="146.4" y1="730.6" x2="155.4" y2="730.6" stroke="#000" stroke-width="6" stroke-linecap="butt"/>
<text x="128.5" y="738.9" font-size="24" text-anchor="end" >12</text>
<line x1="146.4" y1="659.8" x2="155.4" y2="659.8" stroke="#000" stroke-width="6" stroke-linecap="butt"/>
<text x="128.5" y="668.1" font-size="24" text-anchor="end" >14</text>
<line x1="146" y1="1155.3" x2="742" y2="1155.3" stroke="#000" stroke-width="6" stroke-linecap="butt"/>
<rect x="190.9" y="1105.5" width="32.2" height="49.8" fill="#afaaa8" stroke="#000" stroke-width="2.4"/>
<rect x="233.6" y="1112.3" width="30.9" height="43" fill="#f0d0c8" stroke="#000" stroke-width="2.4"/>
<rect x="337.8" y="1088.5" width="32" height="66.8" fill="#afaaa8" stroke="#000" stroke-width="2.4"/>
<rect x="380.4" y="1109.9" width="32" height="45.4" fill="#f0d0c8" stroke="#000" stroke-width="2.4"/>
<rect x="485.3" y="958.3" width="30.8" height="197" fill="#afaaa8" stroke="#000" stroke-width="2.4"/>
<rect x="527.1" y="1027.6" width="31.7" height="127.7" fill="#f0d0c8" stroke="#000" stroke-width="2.4"/>
<rect x="632.2" y="812.1" width="32.1" height="343.2" fill="#afaaa8" stroke="#000" stroke-width="2.4"/>
<rect x="673.5" y="781.5" width="32.1" height="373.8" fill="#f0d0c8" stroke="#000" stroke-width="2.4"/>
<line x1="207.2" y1="1101.9" x2="207.2" y2="1110" stroke="#000" stroke-width="1.6" stroke-linecap="butt"/>
<line x1="200.7" y1="1101.9" x2="213.7" y2="1101.9" stroke="#000" stroke-width="1.6" stroke-linecap="butt"/>
<line x1="200.7" y1="1110" x2="213.7" y2="1110" stroke="#000" stroke-width="1.6" stroke-linecap="butt"/>
<line x1="248.9" y1="1101.9" x2="248.9" y2="1120.2" stroke="#000" stroke-width="1.6" stroke-linecap="butt"/>
<line x1="242.4" y1="1101.9" x2="255.4" y2="1101.9" stroke="#000" stroke-width="1.6" stroke-linecap="butt"/>
<line x1="242.4" y1="1120.2" x2="255.4" y2="1120.2" stroke="#000" stroke-width="1.6" stroke-linecap="butt"/>
<line x1="396" y1="1088.5" x2="396" y2="1131.2" stroke="#000" stroke-width="1.6" stroke-linecap="butt"/>
<line x1="389.5" y1="1088.5" x2="402.5" y2="1088.5" stroke="#000" stroke-width="1.6" stroke-linecap="butt"/>
<line x1="389.5" y1="1131.2" x2="402.5" y2="1131.2" stroke="#000" stroke-width="1.6" stroke-linecap="butt"/>
<line x1="501.2" y1="946" x2="501.2" y2="968.5" stroke="#000" stroke-width="1.6" stroke-linecap="butt"/>
<line x1="494.7" y1="946" x2="507.7" y2="946" stroke="#000" stroke-width="1.6" stroke-linecap="butt"/>
<line x1="494.7" y1="968.5" x2="507.7" y2="968.5" stroke="#000" stroke-width="1.6" stroke-linecap="butt"/>
<line x1="543" y1="1007.3" x2="543" y2="1047.5" stroke="#000" stroke-width="1.6" stroke-linecap="butt"/>
<line x1="536.5" y1="1007.3" x2="549.5" y2="1007.3" stroke="#000" stroke-width="1.6" stroke-linecap="butt"/>
<line x1="536.5" y1="1047.5" x2="549.5" y2="1047.5" stroke="#000" stroke-width="1.6" stroke-linecap="butt"/>
<line x1="648.4" y1="794" x2="648.4" y2="827.5" stroke="#000" stroke-width="1.6" stroke-linecap="butt"/>
<line x1="641.9" y1="794" x2="654.9" y2="794" stroke="#000" stroke-width="1.6" stroke-linecap="butt"/>
<line x1="641.9" y1="827.5" x2="654.9" y2="827.5" stroke="#000" stroke-width="1.6" stroke-linecap="butt"/>
<line x1="689.4" y1="727.7" x2="689.4" y2="834" stroke="#000" stroke-width="1.6" stroke-linecap="butt"/>
<line x1="682.9" y1="727.7" x2="695.9" y2="727.7" stroke="#000" stroke-width="1.6" stroke-linecap="butt"/>
<line x1="682.9" y1="834" x2="695.9" y2="834" stroke="#000" stroke-width="1.6" stroke-linecap="butt"/>
<circle cx="181.2" cy="1100.9" r="6.4" fill="#5b9bd5"/>
<circle cx="181.2" cy="1106" r="6.4" fill="#5b9bd5"/>
<circle cx="181.2" cy="1108.2" r="6.4" fill="#5b9bd5"/>
<circle cx="324.9" cy="1086" r="6.4" fill="#5b9bd5"/>
<circle cx="324.9" cy="1088" r="6.4" fill="#5b9bd5"/>
<circle cx="469.1" cy="942" r="6.4" fill="#5b9bd5"/>
<circle cx="469.1" cy="950" r="6.4" fill="#5b9bd5"/>
<circle cx="469.1" cy="956" r="6.4" fill="#5b9bd5"/>
<circle cx="469.1" cy="967.1" r="6.4" fill="#5b9bd5"/>
<circle cx="612.7" cy="790.4" r="6.4" fill="#5b9bd5"/>
<circle cx="612.7" cy="809.5" r="6.4" fill="#5b9bd5"/>
<circle cx="612.7" cy="825.5" r="6.4" fill="#5b9bd5"/>
<circle cx="284" cy="1097.7" r="6.4" fill="#ed7d31"/>
<circle cx="284" cy="1106.8" r="6.4" fill="#ed7d31"/>
<circle cx="284" cy="1113" r="6.4" fill="#ed7d31"/>
<circle cx="284" cy="1117.7" r="6.4" fill="#ed7d31"/>
<circle cx="431.5" cy="1086.3" r="6.4" fill="#ed7d31"/>
<circle cx="431.5" cy="1099.5" r="6.4" fill="#ed7d31"/>
<circle cx="431.5" cy="1128" r="6.4" fill="#ed7d31"/>
<circle cx="579.5" cy="1000.3" r="6.4" fill="#ed7d31"/>
<circle cx="579.5" cy="1032" r="6.4" fill="#ed7d31"/>
<circle cx="579.5" cy="1036" r="6.4" fill="#ed7d31"/>
<circle cx="727.2" cy="734.5" r="6.4" fill="#ed7d31"/>
<circle cx="727.2" cy="768.3" r="6.4" fill="#ed7d31"/>
<circle cx="726.2" cy="838.6" r="6.4" fill="#ed7d31"/>
<text x="543" y="1001.7" font-size="24" font-weight="bold" text-anchor="middle" stroke="#000" stroke-width="0.9" style="font-family:'DejaVu Sans',sans-serif">*</text>
<text x="227.8" y="1200" font-size="24" text-anchor="middle" >1</text>
<text x="374.7" y="1200" font-size="24" text-anchor="middle" >3</text>
<text x="522.3" y="1200" font-size="24" text-anchor="middle" >5</text>
<text x="668.5" y="1200" font-size="24" text-anchor="middle" >7</text>
<text x="433.4" y="1233" font-size="29" text-anchor="middle" font-weight="bold" textLength="157" lengthAdjust="spacingAndGlyphs" >Time (days)</text>
<text x="373.8" y="693.8" font-size="40" text-anchor="start" font-weight="bold" font-style="italic" textLength="103.6" lengthAdjust="spacingAndGlyphs" >SEN4</text>
<text transform="translate(62.5,874.5) rotate(-90)" x="0" y="0" font-size="29" font-weight="bold" text-anchor="middle" textLength="312" lengthAdjust="spacingAndGlyphs"><tspan font-style="italic">SEN4</tspan> expression (fold)</text>
<rect x="193.4" y="754.4" width="16.3" height="16.3" fill="#afaaa8" stroke="#000" stroke-width="2"/>
<rect x="193.4" y="797.8" width="16.3" height="16.3" fill="#f0d0c8" stroke="#000" stroke-width="2"/>
<text x="219.2" y="771.2" font-size="25.5" text-anchor="start" textLength="51.1" lengthAdjust="spacingAndGlyphs" >DILS</text>
<text x="219.2" y="814.6" font-size="25.5" text-anchor="start" textLength="222.8" lengthAdjust="spacingAndGlyphs" >DILS + 1.5 mM CM</text>
<line x1="872" y1="663.4" x2="872" y2="1159.3" stroke="#000" stroke-width="6" stroke-linecap="butt"/>
<line x1="863" y1="1156.3" x2="872" y2="1156.3" stroke="#000" stroke-width="6" stroke-linecap="butt"/>
<text x="845" y="1164.6" font-size="24" text-anchor="end" >0.0</text>
<line x1="863" y1="1058.3" x2="872" y2="1058.3" stroke="#000" stroke-width="6" stroke-linecap="butt"/>
<text x="845" y="1066.6" font-size="24" text-anchor="end" >0.5</text>
<line x1="863" y1="960.3" x2="872" y2="960.3" stroke="#000" stroke-width="6" stroke-linecap="butt"/>
<text x="845" y="968.6" font-size="24" text-anchor="end" >1.0</text>
<line x1="863" y1="862.3" x2="872" y2="862.3" stroke="#000" stroke-width="6" stroke-linecap="butt"/>
<text x="845" y="870.6" font-size="24" text-anchor="end" >1.5</text>
<line x1="863" y1="764.3" x2="872" y2="764.3" stroke="#000" stroke-width="6" stroke-linecap="butt"/>
<text x="845" y="772.6" font-size="24" text-anchor="end" >2.0</text>
<line x1="863" y1="666.3" x2="872" y2="666.3" stroke="#000" stroke-width="6" stroke-linecap="butt"/>
<text x="845" y="674.6" font-size="24" text-anchor="end" >2.5</text>
<line x1="863" y1="1156.3" x2="1447" y2="1156.3" stroke="#000" stroke-width="6" stroke-linecap="butt"/>
<rect x="907.6" y="1147.4" width="31" height="8.9" fill="#afaaa8" stroke="#000" stroke-width="2.4"/>
<rect x="947.8" y="1145.8" width="31.7" height="10.5" fill="#f0d0c8" stroke="#000" stroke-width="2.4"/>
<rect x="1052.2" y="1060.9" width="30.3" height="95.4" fill="#afaaa8" stroke="#000" stroke-width="2.4"/>
<rect x="1093.1" y="1145.8" width="31" height="10.5" fill="#f0d0c8" stroke="#000" stroke-width="2.4"/>
<rect x="1195.7" y="864.8" width="30.4" height="291.5" fill="#afaaa8" stroke="#000" stroke-width="2.4"/>
<rect x="1236.7" y="1006.2" width="30.5" height="150.1" fill="#f0d0c8" stroke="#000" stroke-width="2.4"/>
<rect x="1339.4" y="771.9" width="31" height="384.4" fill="#afaaa8" stroke="#000" stroke-width="2.4"/>
<rect x="1381.2" y="849.1" width="30.3" height="307.2" fill="#f0d0c8" stroke="#000" stroke-width="2.4"/>
<line x1="923" y1="1143.2" x2="923" y2="1149.6" stroke="#000" stroke-width="1.6" stroke-linecap="butt"/>
<line x1="916.5" y1="1143.2" x2="929.5" y2="1143.2" stroke="#000" stroke-width="1.6" stroke-linecap="butt"/>
<line x1="916.5" y1="1149.6" x2="929.5" y2="1149.6" stroke="#000" stroke-width="1.6" stroke-linecap="butt"/>
<line x1="963.7" y1="1141.8" x2="963.7" y2="1149.6" stroke="#000" stroke-width="1.6" stroke-linecap="butt"/>
<line x1="957.2" y1="1141.8" x2="970.2" y2="1141.8" stroke="#000" stroke-width="1.6" stroke-linecap="butt"/>
<line x1="957.2" y1="1149.6" x2="970.2" y2="1149.6" stroke="#000" stroke-width="1.6" stroke-linecap="butt"/>
<line x1="1066.9" y1="1023.5" x2="1066.9" y2="1096.6" stroke="#000" stroke-width="1.6" stroke-linecap="butt"/>
<line x1="1060.4" y1="1023.5" x2="1073.4" y2="1023.5" stroke="#000" stroke-width="1.6" stroke-linecap="butt"/>
<line x1="1060.4" y1="1096.6" x2="1073.4" y2="1096.6" stroke="#000" stroke-width="1.6" stroke-linecap="butt"/>
<line x1="1108.2" y1="1140.5" x2="1108.2" y2="1149.6" stroke="#000" stroke-width="1.6" stroke-linecap="butt"/>
<line x1="1101.7" y1="1140.5" x2="1114.7" y2="1140.5" stroke="#000" stroke-width="1.6" stroke-linecap="butt"/>
<line x1="1101.7" y1="1149.6" x2="1114.7" y2="1149.6" stroke="#000" stroke-width="1.6" stroke-linecap="butt"/>
<line x1="1210.9" y1="810.4" x2="1210.9" y2="918" stroke="#000" stroke-width="1.6" stroke-linecap="butt"/>
<line x1="1204.4" y1="810.4" x2="1217.4" y2="810.4" stroke="#000" stroke-width="1.6" stroke-linecap="butt"/>
<line x1="1204.4" y1="918" x2="1217.4" y2="918" stroke="#000" stroke-width="1.6" stroke-linecap="butt"/>
<line x1="1251.6" y1="970.2" x2="1251.6" y2="1041.6" stroke="#000" stroke-width="1.6" stroke-linecap="butt"/>
<line x1="1245.1" y1="970.2" x2="1258.1" y2="970.2" stroke="#000" stroke-width="1.6" stroke-linecap="butt"/>
<line x1="1245.1" y1="1041.6" x2="1258.1" y2="1041.6" stroke="#000" stroke-width="1.6" stroke-linecap="butt"/>
<line x1="1355.5" y1="742.1" x2="1355.5" y2="801.1" stroke="#000" stroke-width="1.6" stroke-linecap="butt"/>
<line x1="1349" y1="742.1" x2="1362" y2="742.1" stroke="#000" stroke-width="1.6" stroke-linecap="butt"/>
<line x1="1349" y1="801.1" x2="1362" y2="801.1" stroke="#000" stroke-width="1.6" stroke-linecap="butt"/>
<line x1="1396" y1="801.1" x2="1396" y2="895.2" stroke="#000" stroke-width="1.6" stroke-linecap="butt"/>
<line x1="1389.5" y1="801.1" x2="1402.5" y2="801.1" stroke="#000" stroke-width="1.6" stroke-linecap="butt"/>
<line x1="1389.5" y1="895.2" x2="1402.5" y2="895.2" stroke="#000" stroke-width="1.6" stroke-linecap="butt"/>
<circle cx="894.8" cy="1143.2" r="6.4" fill="#5b9bd5"/>
<circle cx="894.8" cy="1147" r="6.4" fill="#5b9bd5"/>
<circle cx="894.8" cy="1151.4" r="6.4" fill="#5b9bd5"/>
<circle cx="1037.3" cy="1026.6" r="6.4" fill="#5b9bd5"/>
<circle cx="1037.6" cy="1051" r="6.4" fill="#5b9bd5"/>
<circle cx="1037.6" cy="1055" r="6.4" fill="#5b9bd5"/>
<circle cx="1037.3" cy="1098.2" r="6.4" fill="#5b9bd5"/>
<circle cx="1180.2" cy="805.5" r="6.4" fill="#5b9bd5"/>
<circle cx="1180.2" cy="877.3" r="6.4" fill="#5b9bd5"/>
<circle cx="1180.2" cy="908.5" r="6.4" fill="#5b9bd5"/>
<circle cx="1180.2" cy="912" r="6.4" fill="#5b9bd5"/>
<circle cx="1321.3" cy="747" r="6.4" fill="#5b9bd5"/>
<circle cx="1321.3" cy="764" r="6.4" fill="#5b9bd5"/>
<circle cx="1321.3" cy="767.5" r="6.4" fill="#5b9bd5"/>
<circle cx="1321.3" cy="804.1" r="6.4" fill="#5b9bd5"/>
<circle cx="997.8" cy="1141.8" r="6.4" fill="#ed7d31"/>
<circle cx="997.8" cy="1146" r="6.4" fill="#ed7d31"/>
<circle cx="997.8" cy="1151.4" r="6.4" fill="#ed7d31"/>
<circle cx="1138.2" cy="1141.8" r="6.4" fill="#ed7d31"/>
<circle cx="1138.2" cy="1146" r="6.4" fill="#ed7d31"/>
<circle cx="1138.2" cy="1151.4" r="6.4" fill="#ed7d31"/>
<circle cx="1285.5" cy="967.9" r="6.4" fill="#ed7d31"/>
<circle cx="1285.5" cy="1007.5" r="6.4" fill="#ed7d31"/>
<circle cx="1285.5" cy="1011.5" r="6.4" fill="#ed7d31"/>
<circle cx="1285.5" cy="1040.7" r="6.4" fill="#ed7d31"/>
<circle cx="1429.3" cy="815.7" r="6.4" fill="#ed7d31"/>
<circle cx="1429.3" cy="823.8" r="6.4" fill="#ed7d31"/>
<circle cx="1429.3" cy="901.4" r="6.4" fill="#ed7d31"/>
<text x="1108.2" y="1138" font-size="24" font-weight="bold" text-anchor="middle" stroke="#000" stroke-width="0.9" style="font-family:'DejaVu Sans',sans-serif">*</text>
<text x="1251.6" y="965.7" font-size="24" font-weight="bold" text-anchor="middle" stroke="#000" stroke-width="0.9" style="font-family:'DejaVu Sans',sans-serif">*</text>
<text x="943" y="1202" font-size="24" text-anchor="middle" >1</text>
<text x="1087" y="1202" font-size="24" text-anchor="middle" >3</text>
<text x="1231.4" y="1202" font-size="24" text-anchor="middle" >5</text>
<text x="1374.7" y="1202" font-size="24" text-anchor="middle" >7</text>
<text x="1153" y="1240" font-size="29" text-anchor="middle" font-weight="bold" textLength="157" lengthAdjust="spacingAndGlyphs" >Time (days)</text>
<text x="1068.2" y="703" font-size="40" text-anchor="start" font-weight="bold" font-style="italic" textLength="134.2" lengthAdjust="spacingAndGlyphs" >SAG12</text>
<text transform="translate(791.5,868.6) rotate(-90)" x="0" y="0" font-size="29" font-weight="bold" text-anchor="middle" textLength="324" lengthAdjust="spacingAndGlyphs"><tspan font-style="italic">SAG12</tspan> expression (fold)</text>
<rect x="906" y="751.5" width="16.1" height="16.1" fill="#afaaa8" stroke="#000" stroke-width="2"/>
<rect x="906" y="801.5" width="16.1" height="16.1" fill="#f0d0c8" stroke="#000" stroke-width="2"/>
<text x="931.5" y="768.1" font-size="25.5" text-anchor="start" textLength="52.5" lengthAdjust="spacingAndGlyphs" >DILS</text>
<text x="931.5" y="818.1" font-size="25.5" text-anchor="start" textLength="218.3" lengthAdjust="spacingAndGlyphs" >DILS +1.5 mM CM</text>
<line x1="1586" y1="676.8" x2="1586" y2="1167.6" stroke="#000" stroke-width="6" stroke-linecap="butt"/>
<line x1="1577" y1="1164.6" x2="1586" y2="1164.6" stroke="#000" stroke-width="6" stroke-linecap="butt"/>
<text x="1560" y="1172.9" font-size="24" text-anchor="end" >0</text>
<line x1="1577" y1="1104" x2="1586" y2="1104" stroke="#000" stroke-width="6" stroke-linecap="butt"/>
<text x="1560" y="1112.3" font-size="24" text-anchor="end" >2</text>
<line x1="1577" y1="1043.4" x2="1586" y2="1043.4" stroke="#000" stroke-width="6" stroke-linecap="butt"/>
<text x="1560" y="1051.7" font-size="24" text-anchor="end" >4</text>
<line x1="1577" y1="982.8" x2="1586" y2="982.8" stroke="#000" stroke-width="6" stroke-linecap="butt"/>
<text x="1560" y="991.1" font-size="24" text-anchor="end" >6</text>
<line x1="1577" y1="922.2" x2="1586" y2="922.2" stroke="#000" stroke-width="6" stroke-linecap="butt"/>
<text x="1560" y="930.5" font-size="24" text-anchor="end" >8</text>
<line x1="1577" y1="861.6" x2="1586" y2="861.6" stroke="#000" stroke-width="6" stroke-linecap="butt"/>
<text x="1560" y="869.9" font-size="24" text-anchor="end" >10</text>
<line x1="1577" y1="801" x2="1586" y2="801" stroke="#000" stroke-width="6" stroke-linecap="butt"/>
<text x="1560" y="809.3" font-size="24" text-anchor="end" >12</text>
<line x1="1577" y1="740.4" x2="1586" y2="740.4" stroke="#000" stroke-width="6" stroke-linecap="butt"/>
<text x="1560" y="748.7" font-size="24" text-anchor="end" >14</text>
<line x1="1577" y1="679.8" x2="1586" y2="679.8" stroke="#000" stroke-width="6" stroke-linecap="butt"/>
<text x="1560" y="688.1" font-size="24" text-anchor="end" >16</text>
<line x1="1578" y1="1164.6" x2="2162" y2="1164.6" stroke="#000" stroke-width="6" stroke-linecap="butt"/>
<rect x="1621.9" y="1142.2" width="30.4" height="22.4" fill="#afaaa8" stroke="#000" stroke-width="2.4"/>
<rect x="1663.7" y="1119.6" width="30.1" height="45" fill="#f0d0c8" stroke="#000" stroke-width="2.4"/>
<rect x="1766.2" y="1091.7" width="30.1" height="72.9" fill="#afaaa8" stroke="#000" stroke-width="2.4"/>
<rect x="1806.5" y="1114.2" width="31" height="50.4" fill="#f0d0c8" stroke="#000" stroke-width="2.4"/>
<rect x="1908.2" y="802.2" width="31.3" height="362.4" fill="#afaaa8" stroke="#000" stroke-width="2.4"/>
<rect x="1949.9" y="1050.4" width="30.3" height="114.2" fill="#f0d0c8" stroke="#000" stroke-width="2.4"/>
<rect x="2052.2" y="842.1" width="30.9" height="322.5" fill="#afaaa8" stroke="#000" stroke-width="2.4"/>
<rect x="2092.8" y="874.1" width="31" height="290.5" fill="#f0d0c8" stroke="#000" stroke-width="2.4"/>
<line x1="1637.5" y1="1136.6" x2="1637.5" y2="1145.7" stroke="#000" stroke-width="1.6" stroke-linecap="butt"/>
<line x1="1631" y1="1136.6" x2="1644" y2="1136.6" stroke="#000" stroke-width="1.6" stroke-linecap="butt"/>
<line x1="1631" y1="1145.7" x2="1644" y2="1145.7" stroke="#000" stroke-width="1.6" stroke-linecap="butt"/>
<line x1="1678.4" y1="1107.2" x2="1678.4" y2="1131.1" stroke="#000" stroke-width="1.6" stroke-linecap="butt"/>
<line x1="1671.9" y1="1107.2" x2="1684.9" y2="1107.2" stroke="#000" stroke-width="1.6" stroke-linecap="butt"/>
<line x1="1671.9" y1="1131.1" x2="1684.9" y2="1131.1" stroke="#000" stroke-width="1.6" stroke-linecap="butt"/>
<line x1="1781.1" y1="1081.9" x2="1781.1" y2="1097.7" stroke="#000" stroke-width="1.6" stroke-linecap="butt"/>
<line x1="1774.6" y1="1081.9" x2="1787.6" y2="1081.9" stroke="#000" stroke-width="1.6" stroke-linecap="butt"/>
<line x1="1774.6" y1="1097.7" x2="1787.6" y2="1097.7" stroke="#000" stroke-width="1.6" stroke-linecap="butt"/>
<line x1="1821.6" y1="1111.6" x2="1821.6" y2="1116.1" stroke="#000" stroke-width="1.6" stroke-linecap="butt"/>
<line x1="1815.1" y1="1111.6" x2="1828.1" y2="1111.6" stroke="#000" stroke-width="1.6" stroke-linecap="butt"/>
<line x1="1815.1" y1="1116.1" x2="1828.1" y2="1116.1" stroke="#000" stroke-width="1.6" stroke-linecap="butt"/>
<line x1="1924" y1="738.2" x2="1924" y2="865.1" stroke="#000" stroke-width="1.6" stroke-linecap="butt"/>
<line x1="1917.5" y1="738.2" x2="1930.5" y2="738.2" stroke="#000" stroke-width="1.6" stroke-linecap="butt"/>
<line x1="1917.5" y1="865.1" x2="1930.5" y2="865.1" stroke="#000" stroke-width="1.6" stroke-linecap="butt"/>
<line x1="1964.3" y1="1042" x2="1964.3" y2="1055.4" stroke="#000" stroke-width="1.6" stroke-linecap="butt"/>
<line x1="1957.8" y1="1042" x2="1970.8" y2="1042" stroke="#000" stroke-width="1.6" stroke-linecap="butt"/>
<line x1="1957.8" y1="1055.4" x2="1970.8" y2="1055.4" stroke="#000" stroke-width="1.6" stroke-linecap="butt"/>
<line x1="2067.3" y1="799.6" x2="2067.3" y2="885" stroke="#000" stroke-width="1.6" stroke-linecap="butt"/>
<line x1="2060.8" y1="799.6" x2="2073.8" y2="799.6" stroke="#000" stroke-width="1.6" stroke-linecap="butt"/>
<line x1="2060.8" y1="885" x2="2073.8" y2="885" stroke="#000" stroke-width="1.6" stroke-linecap="butt"/>
<line x1="2108.7" y1="856.8" x2="2108.7" y2="890" stroke="#000" stroke-width="1.6" stroke-linecap="butt"/>
<line x1="2102.2" y1="856.8" x2="2115.2" y2="856.8" stroke="#000" stroke-width="1.6" stroke-linecap="butt"/>
<line x1="2102.2" y1="890" x2="2115.2" y2="890" stroke="#000" stroke-width="1.6" stroke-linecap="butt"/>
<circle cx="1608.9" cy="1138.2" r="6.4" fill="#5b9bd5"/>
<circle cx="1608.9" cy="1143" r="6.4" fill="#5b9bd5"/>
<circle cx="1608.9" cy="1147.7" r="6.4" fill="#5b9bd5"/>
<circle cx="1751.8" cy="1081" r="6.4" fill="#5b9bd5"/>
<circle cx="1751.8" cy="1089.1" r="6.4" fill="#5b9bd5"/>
<circle cx="1751.8" cy="1098.6" r="6.4" fill="#5b9bd5"/>
<circle cx="1894.2" cy="761.2" r="6.4" fill="#5b9bd5"/>
<circle cx="1894.2" cy="767" r="6.4" fill="#5b9bd5"/>
<circle cx="1894.2" cy="873.3" r="6.4" fill="#5b9bd5"/>
<circle cx="2035.4" cy="793.2" r="6.4" fill="#5b9bd5"/>
<circle cx="2035.4" cy="852" r="6.4" fill="#5b9bd5"/>
<circle cx="2035.4" cy="875.5" r="6.4" fill="#5b9bd5"/>
<circle cx="2035.4" cy="879" r="6.4" fill="#5b9bd5"/>
<circle cx="1710.5" cy="1106.8" r="6.4" fill="#ed7d31"/>
<circle cx="1710.5" cy="1118.4" r="6.4" fill="#ed7d31"/>
<circle cx="1710.5" cy="1130" r="6.4" fill="#ed7d31"/>
<circle cx="1853.6" cy="1108" r="6.4" fill="#ed7d31"/>
<circle cx="1853.6" cy="1115.2" r="6.4" fill="#ed7d31"/>
<circle cx="1998.8" cy="1042" r="6.4" fill="#ed7d31"/>
<circle cx="1998.8" cy="1050" r="6.4" fill="#ed7d31"/>
<circle cx="1998.8" cy="1055.4" r="6.4" fill="#ed7d31"/>
<circle cx="2141.9" cy="860.1" r="6.4" fill="#ed7d31"/>
<circle cx="2141.9" cy="866.5" r="6.4" fill="#ed7d31"/>
<circle cx="2141.9" cy="892.1" r="6.4" fill="#ed7d31"/>
<text x="1678.4" y="1101.6" font-size="24" font-weight="bold" text-anchor="middle" stroke="#000" stroke-width="0.9" style="font-family:'DejaVu Sans',sans-serif">*</text>
<text x="1821.6" y="1105.7" font-size="24" font-weight="bold" text-anchor="middle" stroke="#000" stroke-width="0.9" style="font-family:'DejaVu Sans',sans-serif">*</text>
<text x="1964.3" y="1038.8" font-size="24" font-weight="bold" text-anchor="middle" stroke="#000" stroke-width="0.9" style="font-family:'DejaVu Sans',sans-serif">*</text>
<text x="1657.7" y="1211" font-size="24" text-anchor="middle" >1</text>
<text x="1801" y="1211" font-size="24" text-anchor="middle" >3</text>
<text x="1944.4" y="1211" font-size="24" text-anchor="middle" >5</text>
<text x="2087.7" y="1211" font-size="24" text-anchor="middle" >7</text>
<text x="1870" y="1244" font-size="29" text-anchor="middle" font-weight="bold" textLength="157" lengthAdjust="spacingAndGlyphs" >Time (days)</text>
<text x="1787.6" y="714" font-size="40" text-anchor="start" font-weight="bold" font-style="italic" textLength="135" lengthAdjust="spacingAndGlyphs" >SAG20</text>
<text transform="translate(1514,874) rotate(-90)" x="0" y="0" font-size="29" font-weight="bold" text-anchor="middle" textLength="325" lengthAdjust="spacingAndGlyphs"><tspan font-style="italic">SAG20</tspan> expression (fold)</text>
<rect x="1613.4" y="777" width="16.1" height="16.1" fill="#afaaa8" stroke="#000" stroke-width="2"/>
<rect x="1613.4" y="824.1" width="16.1" height="16.1" fill="#f0d0c8" stroke="#000" stroke-width="2"/>
<text x="1638.8" y="793.6" font-size="25.5" text-anchor="start" textLength="51.6" lengthAdjust="spacingAndGlyphs" >DILS</text>
<text x="1638.8" y="840.7" font-size="25.5" text-anchor="start" textLength="224" lengthAdjust="spacingAndGlyphs" >DILS + 1.5 mM CM</text>
<line x1="441" y1="1285.4" x2="441" y2="1790.4" stroke="#000" stroke-width="6" stroke-linecap="butt"/>
<line x1="432" y1="1787.4" x2="441" y2="1787.4" stroke="#000" stroke-width="6" stroke-linecap="butt"/>
<text x="414" y="1795.7" font-size="24" text-anchor="end" >0.0</text>
<line x1="432" y1="1687.6" x2="441" y2="1687.6" stroke="#000" stroke-width="6" stroke-linecap="butt"/>
<text x="414" y="1695.9" font-size="24" text-anchor="end" >0.2</text>
<line x1="432" y1="1587.8" x2="441" y2="1587.8" stroke="#000" stroke-width="6" stroke-linecap="butt"/>
<text x="414" y="1596.1" font-size="24" text-anchor="end" >0.4</text>
<line x1="432" y1="1488" x2="441" y2="1488" stroke="#000" stroke-width="6" stroke-linecap="butt"/>
<text x="414" y="1496.3" font-size="24" text-anchor="end" >0.6</text>
<line x1="432" y1="1388.2" x2="441" y2="1388.2" stroke="#000" stroke-width="6" stroke-linecap="butt"/>
<text x="414" y="1396.5" font-size="24" text-anchor="end" >0.8</text>
<line x1="432" y1="1288.4" x2="441" y2="1288.4" stroke="#000" stroke-width="6" stroke-linecap="butt"/>
<text x="414" y="1296.7" font-size="24" text-anchor="end" >1.0</text>
<line x1="435" y1="1787.4" x2="1104" y2="1787.4" stroke="#000" stroke-width="6" stroke-linecap="butt"/>
<line x1="441" y1="1778.4" x2="441" y2="1796.4" stroke="#000" stroke-width="6" stroke-linecap="butt"/>
<line x1="607" y1="1778.4" x2="607" y2="1796.4" stroke="#000" stroke-width="6" stroke-linecap="butt"/>
<line x1="771.3" y1="1778.4" x2="771.3" y2="1796.4" stroke="#000" stroke-width="6" stroke-linecap="butt"/>
<line x1="936.5" y1="1778.4" x2="936.5" y2="1796.4" stroke="#000" stroke-width="6" stroke-linecap="butt"/>
<line x1="1101" y1="1778.4" x2="1101" y2="1796.4" stroke="#000" stroke-width="6" stroke-linecap="butt"/>
<text x="441" y="1830" font-size="24" text-anchor="middle" >0</text>
<text x="607" y="1830" font-size="24" text-anchor="middle" >1</text>
<text x="771.3" y="1830" font-size="24" text-anchor="middle" >3</text>
<text x="936.5" y="1830" font-size="24" text-anchor="middle" >5</text>
<text x="1101" y="1830" font-size="24" text-anchor="middle" >7</text>
<text x="752" y="1871" font-size="29" text-anchor="middle" font-weight="bold" textLength="157" lengthAdjust="spacingAndGlyphs" >Time (days)</text>
<path d="M442.7,1376.5 C470,1385 552,1394.6 606.8,1427.6 C661.6,1460.6 716.5,1529.5 771.6,1574.4 C826.7,1619.3 882.1,1666 937.2,1696.8 C992.3,1727.6 1074.5,1749 1102,1759.4" fill="none" stroke="#a6a6a6" stroke-width="3.8" stroke-linejoin="round"/>
<path d="M442.7,1375 C470,1380.8 552,1388.5 606.8,1410 C661.6,1431.5 716.3,1471.6 771.3,1503.9 C826.3,1536.2 881.6,1567.5 936.7,1603.7 C991.8,1639.9 1074.5,1701.4 1102,1720.9" fill="none" stroke="#e6c8c8" stroke-width="3.2" stroke-linejoin="round"/>
<circle cx="462.1" cy="1348.7" r="6.4" fill="#5b9bd5"/>
<circle cx="462.1" cy="1424.7" r="6.4" fill="#5b9bd5"/>
<circle cx="628.7" cy="1438.6" r="6.4" fill="#5b9bd5"/>
<circle cx="628.7" cy="1445.9" r="6.4" fill="#5b9bd5"/>
<circle cx="792.4" cy="1553.7" r="6.4" fill="#5b9bd5"/>
<circle cx="792.4" cy="1569.8" r="6.4" fill="#5b9bd5"/>
<circle cx="792.4" cy="1595.3" r="6.4" fill="#5b9bd5"/>
<circle cx="956.3" cy="1685.4" r="6.4" fill="#5b9bd5"/>
<circle cx="956.3" cy="1695.2" r="6.4" fill="#5b9bd5"/>
<circle cx="956.3" cy="1702.5" r="6.4" fill="#5b9bd5"/>
<circle cx="1120.4" cy="1761.6" r="6.4" fill="#5b9bd5"/>
<circle cx="1120.4" cy="1765" r="6.4" fill="#5b9bd5"/>
<circle cx="462.1" cy="1334.1" r="6.4" fill="#ed7d31"/>
<circle cx="462.1" cy="1368.4" r="6.4" fill="#ed7d31"/>
<circle cx="462.1" cy="1399.5" r="6.4" fill="#ed7d31"/>
<circle cx="628.7" cy="1394" r="6.4" fill="#ed7d31"/>
<circle cx="628.7" cy="1408.6" r="6.4" fill="#ed7d31"/>
<circle cx="628.7" cy="1425.4" r="6.4" fill="#ed7d31"/>
<circle cx="792.4" cy="1474.3" r="6.4" fill="#ed7d31"/>
<circle cx="792.4" cy="1501.5" r="6.4" fill="#ed7d31"/>
<circle cx="792.4" cy="1505" r="6.4" fill="#ed7d31"/>
<circle cx="792.4" cy="1532.8" r="6.4" fill="#ed7d31"/>
<circle cx="956.5" cy="1569.5" r="6.4" fill="#ed7d31"/>
<circle cx="956.5" cy="1572.5" r="6.4" fill="#ed7d31"/>
<circle cx="956.5" cy="1607.3" r="6.4" fill="#ed7d31"/>
<circle cx="956.5" cy="1631.4" r="6.4" fill="#ed7d31"/>
<circle cx="1120.4" cy="1665.6" r="6.4" fill="#ed7d31"/>
<circle cx="1120.4" cy="1740" r="6.4" fill="#ed7d31"/>
<circle cx="1120.4" cy="1750.5" r="6.4" fill="#ed7d31"/>
<line x1="606.8" y1="1393.3" x2="606.8" y2="1454.6" stroke="#404040" stroke-width="1.6" stroke-linecap="butt"/>
<line x1="600.8" y1="1393.3" x2="612.8" y2="1393.3" stroke="#404040" stroke-width="1.6" stroke-linecap="butt"/>
<line x1="600.8" y1="1454.6" x2="612.8" y2="1454.6" stroke="#404040" stroke-width="1.6" stroke-linecap="butt"/>
<line x1="771.3" y1="1473.3" x2="771.3" y2="1533.2" stroke="#404040" stroke-width="1.6" stroke-linecap="butt"/>
<line x1="765.3" y1="1473.3" x2="777.3" y2="1473.3" stroke="#404040" stroke-width="1.6" stroke-linecap="butt"/>
<line x1="765.3" y1="1533.2" x2="777.3" y2="1533.2" stroke="#404040" stroke-width="1.6" stroke-linecap="butt"/>
<line x1="771.6" y1="1553.3" x2="771.6" y2="1594.6" stroke="#404040" stroke-width="1.6" stroke-linecap="butt"/>
<line x1="765.6" y1="1553.3" x2="777.6" y2="1553.3" stroke="#404040" stroke-width="1.6" stroke-linecap="butt"/>
<line x1="765.6" y1="1594.6" x2="777.6" y2="1594.6" stroke="#404040" stroke-width="1.6" stroke-linecap="butt"/>
<line x1="936.7" y1="1573" x2="936.7" y2="1633.2" stroke="#404040" stroke-width="1.6" stroke-linecap="butt"/>
<line x1="930.7" y1="1573" x2="942.7" y2="1573" stroke="#404040" stroke-width="1.6" stroke-linecap="butt"/>
<line x1="930.7" y1="1633.2" x2="942.7" y2="1633.2" stroke="#404040" stroke-width="1.6" stroke-linecap="butt"/>
<line x1="1102" y1="1674.5" x2="1102" y2="1720" stroke="#404040" stroke-width="1.6" stroke-linecap="butt"/>
<line x1="1096" y1="1674.5" x2="1102.3" y2="1674.5" stroke="#404040" stroke-width="1.6" stroke-linecap="butt"/>
<line x1="441.2" y1="1326.8" x2="441.2" y2="1424" stroke="#909090" stroke-width="1" stroke-linecap="butt"/>
<line x1="441.2" y1="1326.8" x2="447.2" y2="1326.8" stroke="#909090" stroke-width="1" stroke-linecap="butt"/>
<line x1="441.2" y1="1341.4" x2="447.2" y2="1341.4" stroke="#909090" stroke-width="1" stroke-linecap="butt"/>
<line x1="441.2" y1="1407.1" x2="447.2" y2="1407.1" stroke="#909090" stroke-width="1" stroke-linecap="butt"/>
<line x1="441.2" y1="1424" x2="447.2" y2="1424" stroke="#909090" stroke-width="1" stroke-linecap="butt"/>
<circle cx="442.7" cy="1376.5" r="11" fill="#000"/>
<circle cx="606.8" cy="1427.6" r="11" fill="#000"/>
<circle cx="771.6" cy="1574.4" r="11" fill="#000"/>
<circle cx="937.2" cy="1696.8" r="11" fill="#000"/>
<circle cx="1102" cy="1759.4" r="11" fill="#000"/>
<circle cx="442.7" cy="1375" r="11" fill="#ff0000"/>
<circle cx="606.8" cy="1410" r="11" fill="#ff0000"/>
<circle cx="771.3" cy="1503.9" r="11" fill="#ff0000"/>
<circle cx="936.7" cy="1603.7" r="11" fill="#ff0000"/>
<circle cx="1102" cy="1720.9" r="11" fill="#ff0000"/>
<text x="771.2" y="1471.2" font-size="24" font-weight="bold" text-anchor="middle" stroke="#000" stroke-width="0.9" style="font-family:'DejaVu Sans',sans-serif">*</text>
<text x="937" y="1572.3" font-size="24" font-weight="bold" text-anchor="middle" stroke="#000" stroke-width="0.9" style="font-family:'DejaVu Sans',sans-serif">*</text>
<text x="850.8" y="1447.5" font-size="39" font-weight="bold" textLength="236.2" lengthAdjust="spacingAndGlyphs">chlorophyll <tspan font-style="italic">a</tspan></text>
<text transform="translate(314,1536.5) rotate(-90)" x="0" y="0" font-size="28" font-weight="bold" text-anchor="middle" textLength="293.6" lengthAdjust="spacingAndGlyphs">Chlorophyll <tspan font-style="italic">a</tspan> content</text>
<text transform="translate(357,1536.5) rotate(-90)" x="0" y="0" font-size="28" font-weight="bold" text-anchor="middle" textLength="168" lengthAdjust="spacingAndGlyphs">(µg x g<tspan font-size="19" dy="-11">-1</tspan><tspan dy="11"> FW)</tspan></text>
<line x1="477.4" y1="1676.9" x2="532.9" y2="1676.9" stroke="#a6a6a6" stroke-width="4" stroke-linecap="butt"/>
<circle cx="505.1" cy="1676.9" r="9" fill="#000"/>
<text x="539.2" y="1685.9" font-size="27" text-anchor="start" textLength="50.8" lengthAdjust="spacingAndGlyphs" >DILS</text>
<line x1="477.4" y1="1731.5" x2="532.9" y2="1731.5" stroke="#e6c8c8" stroke-width="4" stroke-linecap="butt"/>
<circle cx="505.1" cy="1731.5" r="9" fill="#ff0000"/>
<text x="539.2" y="1740.5" font-size="27" text-anchor="start" textLength="223.9" lengthAdjust="spacingAndGlyphs" >DILS + 1.5 mM CM</text>
<line x1="1346" y1="1297.9" x2="1346" y2="1798.8" stroke="#000" stroke-width="6" stroke-linecap="butt"/>
<line x1="1337" y1="1795.8" x2="1346" y2="1795.8" stroke="#000" stroke-width="6" stroke-linecap="butt"/>
<text x="1318" y="1804.1" font-size="24" text-anchor="end" >0.00</text>
<line x1="1337" y1="1725.1" x2="1346" y2="1725.1" stroke="#000" stroke-width="6" stroke-linecap="butt"/>
<text x="1318" y="1733.4" font-size="24" text-anchor="end" >0.05</text>
<line x1="1337" y1="1654.4" x2="1346" y2="1654.4" stroke="#000" stroke-width="6" stroke-linecap="butt"/>
<text x="1318" y="1662.7" font-size="24" text-anchor="end" >0.10</text>
<line x1="1337" y1="1583.7" x2="1346" y2="1583.7" stroke="#000" stroke-width="6" stroke-linecap="butt"/>
<text x="1318" y="1592" font-size="24" text-anchor="end" >0.15</text>
<line x1="1337" y1="1513" x2="1346" y2="1513" stroke="#000" stroke-width="6" stroke-linecap="butt"/>
<text x="1318" y="1521.3" font-size="24" text-anchor="end" >0.20</text>
<line x1="1337" y1="1442.3" x2="1346" y2="1442.3" stroke="#000" stroke-width="6" stroke-linecap="butt"/>
<text x="1318" y="1450.6" font-size="24" text-anchor="end" >0.25</text>
<line x1="1337" y1="1371.6" x2="1346" y2="1371.6" stroke="#000" stroke-width="6" stroke-linecap="butt"/>
<text x="1318" y="1379.9" font-size="24" text-anchor="end" >0.30</text>
<line x1="1337" y1="1300.9" x2="1346" y2="1300.9" stroke="#000" stroke-width="6" stroke-linecap="butt"/>
<text x="1318" y="1309.2" font-size="24" text-anchor="end" >0.35</text>
<line x1="1340" y1="1795.8" x2="2010" y2="1795.8" stroke="#000" stroke-width="6" stroke-linecap="butt"/>
<line x1="1346" y1="1786.8" x2="1346" y2="1804.8" stroke="#000" stroke-width="6" stroke-linecap="butt"/>
<line x1="1511.3" y1="1786.8" x2="1511.3" y2="1804.8" stroke="#000" stroke-width="6" stroke-linecap="butt"/>
<line x1="1676.4" y1="1786.8" x2="1676.4" y2="1804.8" stroke="#000" stroke-width="6" stroke-linecap="butt"/>
<line x1="1842.3" y1="1786.8" x2="1842.3" y2="1804.8" stroke="#000" stroke-width="6" stroke-linecap="butt"/>
<line x1="2007.3" y1="1786.8" x2="2007.3" y2="1804.8" stroke="#000" stroke-width="6" stroke-linecap="butt"/>
<text x="1346" y="1840" font-size="24" text-anchor="middle" >0</text>
<text x="1511.3" y="1840" font-size="24" text-anchor="middle" >1</text>
<text x="1676.4" y="1840" font-size="24" text-anchor="middle" >3</text>
<text x="1842.3" y="1840" font-size="24" text-anchor="middle" >5</text>
<text x="2007.3" y="1840" font-size="24" text-anchor="middle" >7</text>
<text x="1692.2" y="1871" font-size="29" text-anchor="middle" font-weight="bold" textLength="157" lengthAdjust="spacingAndGlyphs" >Time (days)</text>
<path d="M1346,1414.8 C1373.5,1418.8 1456.2,1408.3 1511.2,1438.5 C1566.2,1468.7 1621,1548.6 1676.3,1595.7 C1731.5,1642.8 1787.4,1691.7 1842.7,1721 C1898,1750.3 1980.4,1763.2 2007.9,1771.6" fill="none" stroke="#a6a6a6" stroke-width="3.8" stroke-linejoin="round"/>
<path d="M1346,1395.7 C1373.5,1398.2 1456.2,1388.4 1511.2,1410.6 C1566.2,1432.8 1621,1491.9 1676.3,1528.9 C1731.6,1566 1787.5,1601.3 1842.8,1632.9 C1898.1,1664.5 1980.4,1704.1 2007.9,1718.3" fill="none" stroke="#e6c8c8" stroke-width="3.2" stroke-linejoin="round"/>
<circle cx="1370.8" cy="1338.5" r="6.4" fill="#5b9bd5"/>
<circle cx="1370.8" cy="1397.7" r="6.4" fill="#5b9bd5"/>
<circle cx="1370.8" cy="1497" r="6.4" fill="#5b9bd5"/>
<circle cx="1530.6" cy="1411.5" r="6.4" fill="#5b9bd5"/>
<circle cx="1530.6" cy="1424.7" r="6.4" fill="#5b9bd5"/>
<circle cx="1530.6" cy="1468.7" r="6.4" fill="#5b9bd5"/>
<circle cx="1695.6" cy="1580.9" r="6.4" fill="#5b9bd5"/>
<circle cx="1695.6" cy="1589.2" r="6.4" fill="#5b9bd5"/>
<circle cx="1695.6" cy="1608.8" r="6.4" fill="#5b9bd5"/>
<circle cx="1862.3" cy="1716.5" r="6.4" fill="#5b9bd5"/>
<circle cx="1862.3" cy="1722.7" r="6.4" fill="#5b9bd5"/>
<circle cx="2027.5" cy="1757.9" r="6.4" fill="#5b9bd5"/>
<circle cx="2027.5" cy="1773" r="6.4" fill="#5b9bd5"/>
<circle cx="2027.5" cy="1777.9" r="6.4" fill="#5b9bd5"/>
<circle cx="1370.8" cy="1347.7" r="6.4" fill="#ed7d31"/>
<circle cx="1370.8" cy="1387.2" r="6.4" fill="#ed7d31"/>
<circle cx="1370.8" cy="1447.3" r="6.4" fill="#ed7d31"/>
<circle cx="1530.6" cy="1391.5" r="6.4" fill="#ed7d31"/>
<circle cx="1530.6" cy="1394.5" r="6.4" fill="#ed7d31"/>
<circle cx="1530.6" cy="1433.2" r="6.4" fill="#ed7d31"/>
<circle cx="1695.6" cy="1491.3" r="6.4" fill="#ed7d31"/>
<circle cx="1695.6" cy="1520.6" r="6.4" fill="#ed7d31"/>
<circle cx="1695.6" cy="1562.5" r="6.4" fill="#ed7d31"/>
<circle cx="1695.6" cy="1566" r="6.4" fill="#ed7d31"/>
<circle cx="1862.4" cy="1579" r="6.4" fill="#ed7d31"/>
<circle cx="1862.4" cy="1644" r="6.4" fill="#ed7d31"/>
<circle cx="1862.4" cy="1647.5" r="6.4" fill="#ed7d31"/>
<circle cx="1862.4" cy="1665.6" r="6.4" fill="#ed7d31"/>
<circle cx="2027.5" cy="1682.5" r="6.4" fill="#ed7d31"/>
<circle cx="2027.5" cy="1686" r="6.4" fill="#ed7d31"/>
<circle cx="2027.5" cy="1719.3" r="6.4" fill="#ed7d31"/>
<circle cx="2027.5" cy="1745.5" r="6.4" fill="#ed7d31"/>
<line x1="1511.2" y1="1388.1" x2="1511.2" y2="1468.1" stroke="#404040" stroke-width="1.6" stroke-linecap="butt"/>
<line x1="1505.2" y1="1388.1" x2="1517.2" y2="1388.1" stroke="#404040" stroke-width="1.6" stroke-linecap="butt"/>
<line x1="1505.2" y1="1468.1" x2="1517.2" y2="1468.1" stroke="#404040" stroke-width="1.6" stroke-linecap="butt"/>
<line x1="1676.3" y1="1491.7" x2="1676.3" y2="1565.1" stroke="#404040" stroke-width="1.6" stroke-linecap="butt"/>
<line x1="1670.3" y1="1491.7" x2="1682.3" y2="1491.7" stroke="#404040" stroke-width="1.6" stroke-linecap="butt"/>
<line x1="1670.3" y1="1565.1" x2="1682.3" y2="1565.1" stroke="#404040" stroke-width="1.6" stroke-linecap="butt"/>
<line x1="1676.3" y1="1581.3" x2="1676.3" y2="1609.5" stroke="#404040" stroke-width="1.6" stroke-linecap="butt"/>
<line x1="1670.3" y1="1581.3" x2="1682.3" y2="1581.3" stroke="#404040" stroke-width="1.6" stroke-linecap="butt"/>
<line x1="1670.3" y1="1609.5" x2="1682.3" y2="1609.5" stroke="#404040" stroke-width="1.6" stroke-linecap="butt"/>
<line x1="1842.8" y1="1586.7" x2="1842.8" y2="1676.9" stroke="#404040" stroke-width="1.6" stroke-linecap="butt"/>
<line x1="1836.8" y1="1586.7" x2="1848.8" y2="1586.7" stroke="#404040" stroke-width="1.6" stroke-linecap="butt"/>
<line x1="1836.8" y1="1676.9" x2="1848.8" y2="1676.9" stroke="#404040" stroke-width="1.6" stroke-linecap="butt"/>
<line x1="2007.9" y1="1687.6" x2="2007.9" y2="1747.8" stroke="#404040" stroke-width="1.6" stroke-linecap="butt"/>
<line x1="2001.9" y1="1687.6" x2="2008.2" y2="1687.6" stroke="#404040" stroke-width="1.6" stroke-linecap="butt"/>
<line x1="2001.9" y1="1747.8" x2="2008.2" y2="1747.8" stroke="#404040" stroke-width="1.6" stroke-linecap="butt"/>
<line x1="1346" y1="1332" x2="1346" y2="1495.7" stroke="#909090" stroke-width="1" stroke-linecap="butt"/>
<line x1="1346" y1="1332" x2="1352" y2="1332" stroke="#909090" stroke-width="1" stroke-linecap="butt"/>
<line x1="1346" y1="1345.4" x2="1352" y2="1345.4" stroke="#909090" stroke-width="1" stroke-linecap="butt"/>
<line x1="1346" y1="1445.7" x2="1352" y2="1445.7" stroke="#909090" stroke-width="1" stroke-linecap="butt"/>
<line x1="1346" y1="1495.7" x2="1352" y2="1495.7" stroke="#909090" stroke-width="1" stroke-linecap="butt"/>
<circle cx="1346" cy="1414.8" r="11" fill="#000"/>
<circle cx="1511.2" cy="1438.5" r="11" fill="#000"/>
<circle cx="1676.3" cy="1595.7" r="11" fill="#000"/>
<circle cx="1842.7" cy="1721" r="11" fill="#000"/>
<circle cx="2007.9" cy="1771.6" r="11" fill="#000"/>
<circle cx="1346" cy="1395.7" r="11" fill="#ff0000"/>
<circle cx="1511.2" cy="1410.6" r="11" fill="#ff0000"/>
<circle cx="1676.3" cy="1528.9" r="11" fill="#ff0000"/>
<circle cx="1842.8" cy="1632.9" r="11" fill="#ff0000"/>
<circle cx="2007.9" cy="1718.3" r="11" fill="#ff0000"/>
<text x="1677.2" y="1487.5" font-size="24" font-weight="bold" text-anchor="middle" stroke="#000" stroke-width="0.9" style="font-family:'DejaVu Sans',sans-serif">*</text>
<text x="1842.8" y="1583.8" font-size="24" font-weight="bold" text-anchor="middle" stroke="#000" stroke-width="0.9" style="font-family:'DejaVu Sans',sans-serif">*</text>
<text x="2006.1" y="1687.7" font-size="24" font-weight="bold" text-anchor="middle" stroke="#000" stroke-width="0.9" style="font-family:'DejaVu Sans',sans-serif">*</text>
<text x="1737.6" y="1442.2" font-size="39" font-weight="bold" textLength="238" lengthAdjust="spacingAndGlyphs">chlorophyll <tspan font-style="italic">b</tspan></text>
<text transform="translate(1205.5,1548) rotate(-90)" x="0" y="0" font-size="28" font-weight="bold" text-anchor="middle" textLength="294.8" lengthAdjust="spacingAndGlyphs">Chlorophyll <tspan font-style="italic">b</tspan> content</text>
<text transform="translate(1246,1548) rotate(-90)" x="0" y="0" font-size="28" font-weight="bold" text-anchor="middle" textLength="169.7" lengthAdjust="spacingAndGlyphs">(µg x g<tspan font-size="19" dy="-11">-1</tspan><tspan dy="11"> FW)</tspan></text>
<line x1="1363.5" y1="1701.5" x2="1419" y2="1701.5" stroke="#a6a6a6" stroke-width="4" stroke-linecap="butt"/>
<circle cx="1391.2" cy="1701.5" r="9" fill="#000"/>
<text x="1425.6" y="1710.5" font-size="27" text-anchor="start" textLength="51.4" lengthAdjust="spacingAndGlyphs" >DILS</text>
<line x1="1363.5" y1="1755.1" x2="1419" y2="1755.1" stroke="#e6c8c8" stroke-width="4" stroke-linecap="butt"/>
<circle cx="1391.2" cy="1755.1" r="9" fill="#ff0000"/>
<text x="1425.6" y="1764.1" font-size="27" text-anchor="start" textLength="224" lengthAdjust="spacingAndGlyphs" >DILS + 1.5 mM CM</text>
</svg></body></html>
